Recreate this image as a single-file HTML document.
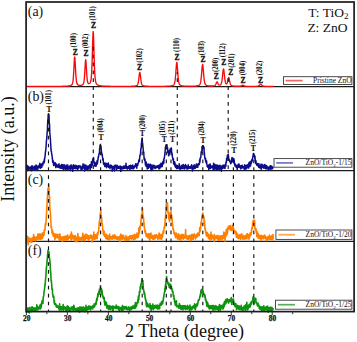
<!DOCTYPE html>
<html><head><meta charset="utf-8"><style>
html,body{margin:0;padding:0;background:#fff;width:357px;height:342px;overflow:hidden}
svg{display:block}
</style></head><body>
<svg width="357" height="342" viewBox="0 0 357 342">
<style>
.d{stroke:#151515;stroke-width:1.15;stroke-dasharray:3.7 4.2;fill:none}
.tr{fill:none;stroke-width:1.45;stroke-linejoin:round}
text{font-family:"Liberation Serif",serif;fill:#111}
.tl{font-size:7.4px;font-weight:bold;text-anchor:middle;stroke:#111;stroke-width:0.25}
.pl{font-size:7.2px;font-weight:bold;text-anchor:middle;stroke:#111;stroke-width:0.32}
.hk{font-size:6.6px;font-weight:bold;text-anchor:middle;stroke:#111;stroke-width:0.05}
.lg{font-size:7.5px}
.pt{stroke-width:0.12}
.sub{font-size:5px}
</style>
<rect width="357" height="342" fill="#fff"/>
<line x1="26" y1="86.7" x2="354" y2="86.7" stroke="#1c1c1c" stroke-width="1.2"/>
<line x1="26" y1="170.7" x2="354" y2="170.7" stroke="#1c1c1c" stroke-width="1.2"/>
<line x1="26" y1="241.3" x2="354" y2="241.3" stroke="#1c1c1c" stroke-width="1.2"/>
<polyline class="tr" stroke="#f80a0a" style="stroke-width:1.35" points="26.40,86.43 26.65,86.43 26.90,86.43 27.15,86.43 27.40,86.43 27.65,86.43 27.90,86.43 28.15,86.43 28.40,86.43 28.65,86.43 28.90,86.43 29.15,86.43 29.40,86.43 29.65,86.43 29.90,86.43 30.15,86.43 30.40,86.43 30.65,86.43 30.90,86.43 31.15,86.43 31.40,86.43 31.65,86.43 31.90,86.43 32.15,86.43 32.40,86.43 32.65,86.43 32.90,86.43 33.15,86.43 33.40,86.43 33.65,86.43 33.90,86.43 34.15,86.42 34.40,86.42 34.65,86.42 34.90,86.42 35.15,86.42 35.40,86.42 35.65,86.42 35.90,86.42 36.15,86.42 36.40,86.42 36.65,86.42 36.90,86.42 37.15,86.42 37.40,86.42 37.65,86.42 37.90,86.42 38.15,86.42 38.40,86.42 38.65,86.42 38.90,86.42 39.15,86.42 39.40,86.42 39.65,86.42 39.90,86.42 40.15,86.42 40.40,86.42 40.65,86.42 40.90,86.42 41.15,86.42 41.40,86.42 41.65,86.42 41.90,86.42 42.15,86.41 42.40,86.41 42.65,86.41 42.90,86.41 43.15,86.41 43.40,86.41 43.65,86.41 43.90,86.41 44.15,86.41 44.40,86.41 44.65,86.41 44.90,86.41 45.15,86.41 45.40,86.41 45.65,86.41 45.90,86.41 46.15,86.41 46.40,86.41 46.65,86.41 46.90,86.41 47.15,86.40 47.40,86.40 47.65,86.40 47.90,86.40 48.15,86.40 48.40,86.40 48.65,86.40 48.90,86.40 49.15,86.40 49.40,86.40 49.65,86.40 49.90,86.40 50.15,86.40 50.40,86.39 50.65,86.39 50.90,86.39 51.15,86.39 51.40,86.39 51.65,86.39 51.90,86.39 52.15,86.39 52.40,86.39 52.65,86.39 52.90,86.39 53.15,86.38 53.40,86.38 53.65,86.38 53.90,86.38 54.15,86.38 54.40,86.38 54.65,86.38 54.90,86.37 55.15,86.37 55.40,86.37 55.65,86.37 55.90,86.37 56.15,86.37 56.40,86.37 56.65,86.36 56.90,86.36 57.15,86.36 57.40,86.36 57.65,86.36 57.90,86.35 58.15,86.35 58.40,86.35 58.65,86.35 58.90,86.34 59.15,86.34 59.40,86.34 59.65,86.34 59.90,86.33 60.15,86.33 60.40,86.33 60.65,86.32 60.90,86.32 61.15,86.32 61.40,86.31 61.65,86.31 61.90,86.30 62.15,86.30 62.40,86.29 62.65,86.29 62.90,86.28 63.15,86.28 63.40,86.27 63.65,86.27 63.90,86.26 64.15,86.25 64.40,86.24 64.65,86.24 64.90,86.23 65.15,86.22 65.40,86.21 65.65,86.20 65.90,86.19 66.15,86.17 66.40,86.16 66.65,86.14 66.90,86.13 67.15,86.11 67.40,86.09 67.65,86.07 67.90,86.05 68.15,86.02 68.40,85.99 68.65,85.96 68.90,85.93 69.15,85.88 69.40,85.84 69.65,85.79 69.90,85.73 70.15,85.66 70.40,85.58 70.65,85.48 70.90,85.37 71.15,85.24 71.40,85.08 71.65,84.87 71.90,84.61 72.15,84.24 72.40,83.71 72.65,82.91 72.90,81.66 73.15,79.77 73.40,77.02 73.65,73.30 73.90,68.69 74.15,63.63 74.40,59.16 74.65,56.87 74.90,57.88 75.15,61.66 75.40,66.63 75.65,71.49 75.90,75.58 76.15,78.70 76.40,80.90 76.65,82.36 76.90,83.30 77.15,83.90 77.40,84.30 77.65,84.58 77.90,84.79 78.15,84.94 78.40,85.07 78.65,85.16 78.90,85.23 79.15,85.29 79.40,85.33 79.65,85.36 79.90,85.38 80.15,85.38 80.40,85.38 80.65,85.36 80.90,85.33 81.15,85.29 81.40,85.24 81.65,85.17 81.90,85.09 82.15,84.98 82.40,84.84 82.65,84.67 82.90,84.44 83.15,84.12 83.40,83.65 83.65,82.93 83.90,81.83 84.15,80.14 84.40,77.70 84.65,74.39 84.90,70.29 85.15,65.79 85.40,61.82 85.65,59.77 85.90,60.64 86.15,63.96 86.40,68.34 86.65,72.61 86.90,76.19 87.15,78.90 87.40,80.79 87.65,82.02 87.90,82.78 88.15,83.23 88.40,83.49 88.65,83.62 88.90,83.66 89.15,83.63 89.40,83.53 89.65,83.37 89.90,83.13 90.15,82.79 90.40,82.30 90.65,81.59 90.90,80.50 91.15,78.84 91.40,76.29 91.65,72.52 91.90,67.23 92.15,60.28 92.40,51.93 92.65,43.02 92.90,35.36 93.15,31.51 93.40,33.24 93.65,39.73 93.90,48.44 94.15,57.20 94.40,64.80 94.65,70.80 94.90,75.18 95.15,78.22 95.40,80.25 95.65,81.59 95.90,82.49 96.15,83.13 96.40,83.60 96.65,83.96 96.90,84.26 97.15,84.50 97.40,84.70 97.65,84.87 97.90,85.02 98.15,85.15 98.40,85.26 98.65,85.36 98.90,85.44 99.15,85.52 99.40,85.58 99.65,85.64 99.90,85.70 100.15,85.74 100.40,85.79 100.65,85.83 100.90,85.86 101.15,85.89 101.40,85.92 101.65,85.95 101.90,85.98 102.15,86.00 102.40,86.02 102.65,86.04 102.90,86.06 103.15,86.08 103.40,86.09 103.65,86.11 103.90,86.12 104.15,86.13 104.40,86.15 104.65,86.16 104.90,86.17 105.15,86.18 105.40,86.19 105.65,86.20 105.90,86.20 106.15,86.21 106.40,86.22 106.65,86.23 106.90,86.23 107.15,86.24 107.40,86.25 107.65,86.25 107.90,86.26 108.15,86.26 108.40,86.27 108.65,86.27 108.90,86.28 109.15,86.28 109.40,86.28 109.65,86.29 109.90,86.29 110.15,86.30 110.40,86.30 110.65,86.30 110.90,86.30 111.15,86.31 111.40,86.31 111.65,86.31 111.90,86.32 112.15,86.32 112.40,86.32 112.65,86.32 112.90,86.33 113.15,86.33 113.40,86.33 113.65,86.33 113.90,86.33 114.15,86.34 114.40,86.34 114.65,86.34 114.90,86.34 115.15,86.34 115.40,86.34 115.65,86.34 115.90,86.35 116.15,86.35 116.40,86.35 116.65,86.35 116.90,86.35 117.15,86.35 117.40,86.35 117.65,86.35 117.90,86.35 118.15,86.35 118.40,86.36 118.65,86.36 118.90,86.36 119.15,86.36 119.40,86.36 119.65,86.36 119.90,86.36 120.15,86.36 120.40,86.36 120.65,86.36 120.90,86.36 121.15,86.36 121.40,86.36 121.65,86.36 121.90,86.36 122.15,86.36 122.40,86.36 122.65,86.36 122.90,86.36 123.15,86.36 123.40,86.36 123.65,86.36 123.90,86.36 124.15,86.36 124.40,86.36 124.65,86.36 124.90,86.36 125.15,86.36 125.40,86.35 125.65,86.35 125.90,86.35 126.15,86.35 126.40,86.35 126.65,86.35 126.90,86.35 127.15,86.35 127.40,86.34 127.65,86.34 127.90,86.34 128.15,86.34 128.40,86.34 128.65,86.33 128.90,86.33 129.15,86.33 129.40,86.32 129.65,86.32 129.90,86.32 130.15,86.31 130.40,86.31 130.65,86.30 130.90,86.30 131.15,86.29 131.40,86.29 131.65,86.28 131.90,86.27 132.15,86.26 132.40,86.25 132.65,86.24 132.90,86.23 133.15,86.22 133.40,86.20 133.65,86.19 133.90,86.17 134.15,86.15 134.40,86.12 134.65,86.10 134.90,86.07 135.15,86.03 135.40,85.99 135.65,85.94 135.90,85.88 136.15,85.81 136.40,85.73 136.65,85.62 136.90,85.48 137.15,85.28 137.40,84.99 137.65,84.57 137.90,83.94 138.15,83.03 138.40,81.76 138.65,80.12 138.90,78.12 139.15,75.93 139.40,73.89 139.65,72.54 139.90,72.41 140.15,73.55 140.40,75.50 140.65,77.69 140.90,79.74 141.15,81.47 141.40,82.80 141.65,83.78 141.90,84.46 142.15,84.92 142.40,85.23 142.65,85.44 142.90,85.60 143.15,85.71 143.40,85.80 143.65,85.87 143.90,85.93 144.15,85.98 144.40,86.02 144.65,86.06 144.90,86.09 145.15,86.12 145.40,86.14 145.65,86.17 145.90,86.18 146.15,86.20 146.40,86.22 146.65,86.23 146.90,86.24 147.15,86.25 147.40,86.26 147.65,86.27 147.90,86.28 148.15,86.28 148.40,86.29 148.65,86.30 148.90,86.30 149.15,86.31 149.40,86.31 149.65,86.32 149.90,86.32 150.15,86.32 150.40,86.33 150.65,86.33 150.90,86.33 151.15,86.33 151.40,86.34 151.65,86.34 151.90,86.34 152.15,86.34 152.40,86.34 152.65,86.35 152.90,86.35 153.15,86.35 153.40,86.35 153.65,86.35 153.90,86.35 154.15,86.35 154.40,86.35 154.65,86.35 154.90,86.35 155.15,86.35 155.40,86.36 155.65,86.36 155.90,86.36 156.15,86.36 156.40,86.36 156.65,86.36 156.90,86.36 157.15,86.36 157.40,86.35 157.65,86.35 157.90,86.35 158.15,86.35 158.40,86.35 158.65,86.35 158.90,86.35 159.15,86.35 159.40,86.35 159.65,86.35 159.90,86.35 160.15,86.35 160.40,86.34 160.65,86.34 160.90,86.34 161.15,86.34 161.40,86.34 161.65,86.34 161.90,86.33 162.15,86.33 162.40,86.33 162.65,86.33 162.90,86.32 163.15,86.32 163.40,86.32 163.65,86.32 163.90,86.31 164.15,86.31 164.40,86.30 164.65,86.30 164.90,86.30 165.15,86.29 165.40,86.29 165.65,86.28 165.90,86.28 166.15,86.27 166.40,86.26 166.65,86.26 166.90,86.25 167.15,86.24 167.40,86.23 167.65,86.22 167.90,86.21 168.15,86.20 168.40,86.19 168.65,86.17 168.90,86.16 169.15,86.14 169.40,86.12 169.65,86.10 169.90,86.08 170.15,86.05 170.40,86.03 170.65,86.00 170.90,85.96 171.15,85.92 171.40,85.88 171.65,85.83 171.90,85.77 172.15,85.70 172.40,85.62 172.65,85.53 172.90,85.42 173.15,85.29 173.40,85.13 173.65,84.92 173.90,84.64 174.15,84.25 174.40,83.69 174.65,82.87 174.90,81.69 175.15,80.02 175.40,77.78 175.65,74.94 175.90,71.58 176.15,67.99 176.40,64.71 176.65,62.58 176.90,62.37 177.15,64.16 177.40,67.28 177.65,70.87 177.90,74.30 178.15,77.25 178.40,79.61 178.65,81.39 178.90,82.66 179.15,83.54 179.40,84.15 179.65,84.57 179.90,84.86 180.15,85.08 180.40,85.25 180.65,85.39 180.90,85.50 181.15,85.59 181.40,85.67 181.65,85.74 181.90,85.80 182.15,85.85 182.40,85.89 182.65,85.93 182.90,85.97 183.15,86.00 183.40,86.02 183.65,86.05 183.90,86.07 184.15,86.09 184.40,86.10 184.65,86.12 184.90,86.13 185.15,86.15 185.40,86.16 185.65,86.17 185.90,86.18 186.15,86.18 186.40,86.19 186.65,86.20 186.90,86.20 187.15,86.21 187.40,86.21 187.65,86.22 187.90,86.22 188.15,86.22 188.40,86.23 188.65,86.23 188.90,86.23 189.15,86.23 189.40,86.23 189.65,86.23 189.90,86.23 190.15,86.23 190.40,86.23 190.65,86.23 190.90,86.22 191.15,86.22 191.40,86.22 191.65,86.22 191.90,86.21 192.15,86.21 192.40,86.20 192.65,86.20 192.90,86.19 193.15,86.18 193.40,86.17 193.65,86.16 193.90,86.15 194.15,86.14 194.40,86.13 194.65,86.12 194.90,86.10 195.15,86.09 195.40,86.07 195.65,86.05 195.90,86.02 196.15,86.00 196.40,85.97 196.65,85.94 196.90,85.90 197.15,85.86 197.40,85.81 197.65,85.75 197.90,85.69 198.15,85.62 198.40,85.53 198.65,85.43 198.90,85.30 199.15,85.15 199.40,84.95 199.65,84.68 199.90,84.30 200.15,83.77 200.40,83.00 200.65,81.91 200.90,80.41 201.15,78.42 201.40,75.94 201.65,73.03 201.90,69.91 202.15,67.00 202.40,64.96 202.65,64.44 202.90,65.62 203.15,68.10 203.40,71.15 203.65,74.23 203.90,76.98 204.15,79.27 204.40,81.05 204.65,82.37 204.90,83.32 205.15,83.99 205.40,84.45 205.65,84.77 205.90,85.01 206.15,85.19 206.40,85.33 206.65,85.44 206.90,85.53 207.15,85.61 207.40,85.68 207.65,85.74 207.90,85.78 208.15,85.83 208.40,85.86 208.65,85.90 208.90,85.92 209.15,85.95 209.40,85.97 209.65,85.98 209.90,86.00 210.15,86.01 210.40,86.02 210.65,86.03 210.90,86.03 211.15,86.04 211.40,86.04 211.65,86.04 211.90,86.03 212.15,86.03 212.40,86.02 212.65,86.01 212.90,85.99 213.15,85.97 213.40,85.95 213.65,85.92 213.90,85.88 214.15,85.83 214.40,85.75 214.65,85.64 214.90,85.48 215.15,85.25 215.40,84.93 215.65,84.51 215.90,83.98 216.15,83.37 216.40,82.73 216.65,82.17 216.90,81.84 217.15,81.85 217.40,82.20 217.65,82.75 217.90,83.34 218.15,83.90 218.40,84.35 218.65,84.70 218.90,84.93 219.15,85.08 219.40,85.15 219.65,85.16 219.90,85.11 220.15,85.03 220.40,84.88 220.65,84.67 220.90,84.35 221.15,83.88 221.40,83.19 221.65,82.22 221.90,80.91 222.15,79.19 222.40,77.10 222.65,74.72 222.90,72.28 223.15,70.20 223.40,69.02 223.65,69.14 223.90,70.52 224.15,72.69 224.40,75.11 224.65,77.42 224.90,79.40 225.15,80.99 225.40,82.18 225.65,83.02 225.90,83.56 226.15,83.85 226.40,83.94 226.65,83.84 226.90,83.53 227.15,83.00 227.40,82.24 227.65,81.25 227.90,80.11 228.15,78.93 228.40,77.96 228.65,77.51 228.90,77.77 229.15,78.65 229.40,79.87 229.65,81.14 229.90,82.31 230.15,83.28 230.40,84.04 230.65,84.60 230.90,85.01 231.15,85.29 231.40,85.48 231.65,85.62 231.90,85.72 232.15,85.80 232.40,85.86 232.65,85.92 232.90,85.96 233.15,86.00 233.40,86.03 233.65,86.06 233.90,86.09 234.15,86.11 234.40,86.13 234.65,86.14 234.90,86.16 235.15,86.17 235.40,86.19 235.65,86.20 235.90,86.21 236.15,86.22 236.40,86.22 236.65,86.23 236.90,86.24 237.15,86.24 237.40,86.25 237.65,86.25 237.90,86.25 238.15,86.25 238.40,86.25 238.65,86.25 238.90,86.25 239.15,86.24 239.40,86.24 239.65,86.22 239.90,86.21 240.15,86.18 240.40,86.14 240.65,86.09 240.90,86.02 241.15,85.93 241.40,85.82 241.65,85.69 241.90,85.55 242.15,85.41 242.40,85.29 242.65,85.21 242.90,85.21 243.15,85.27 243.40,85.39 243.65,85.53 243.90,85.68 244.15,85.81 244.40,85.93 244.65,86.03 244.90,86.11 245.15,86.17 245.40,86.22 245.65,86.25 245.90,86.27 246.15,86.29 246.40,86.30 246.65,86.31 246.90,86.32 247.15,86.33 247.40,86.33 247.65,86.34 247.90,86.34 248.15,86.35 248.40,86.35 248.65,86.35 248.90,86.36 249.15,86.36 249.40,86.36 249.65,86.36 249.90,86.36 250.15,86.37 250.40,86.37 250.65,86.37 250.90,86.37 251.15,86.37 251.40,86.37 251.65,86.37 251.90,86.37 252.15,86.37 252.40,86.37 252.65,86.37 252.90,86.37 253.15,86.36 253.40,86.36 253.65,86.36 253.90,86.36 254.15,86.36 254.40,86.35 254.65,86.35 254.90,86.34 255.15,86.34 255.40,86.33 255.65,86.33 255.90,86.32 256.15,86.31 256.40,86.30 256.65,86.29 256.90,86.27 257.15,86.25 257.40,86.22 257.65,86.18 257.90,86.12 258.15,86.05 258.40,85.95 258.65,85.83 258.90,85.67 259.15,85.49 259.40,85.27 259.65,85.03 259.90,84.78 260.15,84.55 260.40,84.38 260.65,84.30 260.90,84.34 261.15,84.48 261.40,84.69 261.65,84.93 261.90,85.18 262.15,85.41 262.40,85.61 262.65,85.78 262.90,85.92 263.15,86.02 263.40,86.11 263.65,86.17 263.90,86.21 264.15,86.25 264.40,86.27 264.65,86.29 264.90,86.31 265.15,86.32 265.40,86.33 265.65,86.34 265.90,86.35 266.15,86.36 266.40,86.36 266.65,86.37 266.90,86.37 267.15,86.38 267.40,86.38 267.65,86.38 267.90,86.39 268.15,86.39 268.40,86.39 268.65,86.39 268.90,86.40 269.15,86.40 269.40,86.40 269.65,86.40 269.90,86.40 270.15,86.41 270.40,86.41 270.65,86.41 270.90,86.41 271.15,86.41 271.40,86.41 271.65,86.41 271.90,86.41 272.15,86.42 272.40,86.42 272.65,86.42 272.90,86.42 273.15,86.42 273.40,86.42"/>
<polyline class="tr" stroke="#0c0c8c" style="stroke-width:1.5" points="26.40,168.60 26.60,167.67 26.80,166.40 27.00,165.15 27.20,170.66 27.40,169.79 27.60,167.87 27.80,169.29 28.00,168.64 28.20,166.22 28.40,169.52 28.60,167.83 28.80,167.80 29.00,167.18 29.20,168.79 29.40,168.06 29.60,168.89 29.80,167.37 30.00,168.31 30.20,166.97 30.40,169.22 30.60,168.35 30.80,168.52 31.00,168.61 31.20,166.74 31.40,169.06 31.60,170.71 31.80,165.88 32.00,165.74 32.20,166.02 32.40,169.05 32.60,168.11 32.80,169.33 33.00,168.84 33.20,168.15 33.40,168.23 33.60,167.62 33.80,168.95 34.00,166.32 34.20,167.22 34.40,168.06 34.60,170.07 34.80,166.69 35.00,166.26 35.20,166.90 35.40,168.87 35.60,167.27 35.80,169.27 36.00,165.07 36.20,168.95 36.40,168.79 36.60,165.55 36.80,167.56 37.00,168.91 37.20,167.39 37.40,168.54 37.60,170.28 37.80,167.49 38.00,166.72 38.20,166.02 38.40,167.82 38.60,166.65 38.80,166.61 39.00,166.64 39.20,167.55 39.40,165.23 39.60,164.55 39.80,163.28 40.00,167.94 40.20,166.37 40.40,168.15 40.60,166.05 40.80,164.97 41.00,166.44 41.20,165.58 41.40,163.89 41.60,164.21 41.80,167.53 42.00,165.48 42.20,165.36 42.40,164.23 42.60,163.44 42.80,165.25 43.00,163.63 43.20,161.93 43.40,162.87 43.60,161.41 43.80,162.36 44.00,163.04 44.20,159.77 44.40,162.03 44.60,158.36 44.80,158.45 45.00,155.95 45.20,155.44 45.40,151.85 45.60,151.88 45.80,149.54 46.00,147.36 46.20,144.70 46.40,140.93 46.60,139.82 46.80,137.60 47.00,135.00 47.20,131.20 47.40,130.42 47.60,123.98 47.80,119.82 48.00,120.80 48.20,114.60 48.40,116.69 48.60,113.77 48.80,116.70 49.00,115.01 49.20,121.81 49.40,123.23 49.60,125.34 49.80,132.64 50.00,134.73 50.20,137.02 50.40,139.05 50.60,142.98 50.80,145.51 51.00,149.19 51.20,151.48 51.40,151.43 51.60,153.33 51.80,154.88 52.00,155.11 52.20,157.29 52.40,158.96 52.60,160.87 52.80,162.45 53.00,160.27 53.20,162.64 53.40,161.81 53.60,165.57 53.80,163.13 54.00,164.19 54.20,162.59 54.40,163.02 54.60,164.59 54.80,164.03 55.00,165.20 55.20,162.86 55.40,165.94 55.60,164.04 55.80,167.62 56.00,165.11 56.20,167.04 56.40,163.89 56.60,166.38 56.80,164.75 57.00,165.36 57.20,166.11 57.40,165.74 57.60,166.57 57.80,167.27 58.00,167.21 58.20,166.30 58.40,164.69 58.60,165.47 58.80,166.32 59.00,163.85 59.20,167.65 59.40,166.39 59.60,166.41 59.80,168.02 60.00,167.68 60.20,167.14 60.40,165.58 60.60,167.32 60.80,167.40 61.00,165.82 61.20,168.37 61.40,167.70 61.60,164.49 61.80,167.24 62.00,165.46 62.20,168.61 62.40,168.20 62.60,165.73 62.80,164.63 63.00,167.34 63.20,166.92 63.40,169.23 63.60,168.23 63.80,166.91 64.00,168.05 64.20,164.66 64.40,167.73 64.60,168.47 64.80,167.12 65.00,166.44 65.20,168.11 65.40,169.94 65.60,167.66 65.80,165.95 66.00,169.30 66.20,164.98 66.40,168.09 66.60,166.69 66.80,168.67 67.00,166.36 67.20,169.20 67.40,167.87 67.60,165.24 67.80,164.92 68.00,167.09 68.20,169.19 68.40,167.68 68.60,167.61 68.80,167.22 69.00,168.49 69.20,168.03 69.40,167.91 69.60,166.27 69.80,169.10 70.00,169.33 70.20,165.87 70.40,170.57 70.60,168.51 70.80,166.94 71.00,165.10 71.20,168.44 71.40,168.31 71.60,166.82 71.80,165.26 72.00,168.66 72.20,166.84 72.40,166.99 72.60,171.31 72.80,170.38 73.00,168.85 73.20,167.02 73.40,168.46 73.60,164.65 73.80,167.76 74.00,166.63 74.20,165.95 74.40,165.57 74.60,168.31 74.80,167.74 75.00,167.84 75.20,168.73 75.40,166.53 75.60,166.02 75.80,165.32 76.00,165.80 76.20,168.62 76.40,167.44 76.60,168.47 76.80,166.10 77.00,167.02 77.20,166.64 77.40,166.01 77.60,170.05 77.80,168.74 78.00,166.64 78.20,166.64 78.40,167.56 78.60,165.75 78.80,168.20 79.00,165.94 79.20,167.15 79.40,166.29 79.60,167.00 79.80,165.89 80.00,165.57 80.20,166.36 80.40,166.73 80.60,167.23 80.80,167.70 81.00,169.60 81.20,168.66 81.40,167.27 81.60,168.54 81.80,166.70 82.00,169.48 82.20,168.30 82.40,165.82 82.60,168.56 82.80,168.64 83.00,164.07 83.20,166.59 83.40,166.94 83.60,165.04 83.80,166.16 84.00,164.28 84.20,165.76 84.40,167.92 84.60,170.94 84.80,167.00 85.00,169.01 85.20,167.60 85.40,167.84 85.60,165.97 85.80,164.98 86.00,166.46 86.20,168.44 86.40,169.49 86.60,168.20 86.80,168.05 87.00,166.30 87.20,169.37 87.40,169.11 87.60,166.65 87.80,167.26 88.00,166.00 88.20,169.19 88.40,167.78 88.60,167.10 88.80,167.72 89.00,167.74 89.20,166.59 89.40,165.47 89.60,165.37 89.80,164.73 90.00,167.54 90.20,169.77 90.40,164.59 90.60,166.90 90.80,167.16 91.00,165.22 91.20,166.62 91.40,161.84 91.60,167.46 91.80,164.73 92.00,165.13 92.20,165.19 92.40,162.79 92.60,159.81 92.80,160.13 93.00,159.93 93.20,158.54 93.40,158.88 93.60,157.87 93.80,160.66 94.00,162.62 94.20,162.72 94.40,165.96 94.60,163.70 94.80,162.94 95.00,162.36 95.20,166.06 95.40,164.44 95.60,165.76 95.80,164.89 96.00,166.24 96.20,165.54 96.40,163.10 96.60,163.64 96.80,164.35 97.00,160.86 97.20,163.95 97.40,163.10 97.60,162.19 97.80,159.93 98.00,159.83 98.20,157.07 98.40,157.69 98.60,155.77 98.80,155.55 99.00,153.56 99.20,153.37 99.40,153.35 99.60,148.74 99.80,148.97 100.00,145.78 100.20,144.88 100.40,147.37 100.60,147.56 100.80,148.53 101.00,146.33 101.20,149.46 101.40,150.85 101.60,153.62 101.80,153.05 102.00,155.18 102.20,154.38 102.40,156.61 102.60,157.34 102.80,159.87 103.00,158.50 103.20,159.50 103.40,162.07 103.60,164.29 103.80,162.95 104.00,163.29 104.20,162.82 104.40,165.03 104.60,164.58 104.80,166.39 105.00,164.73 105.20,163.22 105.40,163.87 105.60,163.46 105.80,163.24 106.00,166.66 106.20,166.18 106.40,163.62 106.60,167.70 106.80,165.80 107.00,164.35 107.20,166.23 107.40,165.75 107.60,164.94 107.80,163.52 108.00,166.22 108.20,166.65 108.40,162.99 108.60,167.17 108.80,167.34 109.00,165.99 109.20,166.82 109.40,166.38 109.60,165.71 109.80,166.39 110.00,168.67 110.20,165.06 110.40,167.31 110.60,167.28 110.80,166.15 111.00,166.54 111.20,165.32 111.40,166.06 111.60,167.21 111.80,167.65 112.00,166.07 112.20,171.25 112.40,166.54 112.60,167.47 112.80,167.02 113.00,166.81 113.20,169.04 113.40,166.74 113.60,169.11 113.80,168.87 114.00,166.04 114.20,168.76 114.40,166.57 114.60,170.99 114.80,166.94 115.00,166.22 115.20,164.97 115.40,165.78 115.60,166.71 115.80,166.18 116.00,165.88 116.20,166.58 116.40,167.23 116.60,169.39 116.80,165.29 117.00,166.79 117.20,166.27 117.40,165.55 117.60,165.87 117.80,166.35 118.00,168.46 118.20,167.28 118.40,166.84 118.60,168.33 118.80,167.91 119.00,167.25 119.20,168.05 119.40,166.47 119.60,168.37 119.80,168.16 120.00,167.02 120.20,165.97 120.40,169.53 120.60,167.68 120.80,171.53 121.00,166.70 121.20,168.67 121.40,166.99 121.60,167.04 121.80,168.64 122.00,166.51 122.20,167.42 122.40,167.76 122.60,167.70 122.80,168.33 123.00,168.88 123.20,168.63 123.40,167.89 123.60,167.09 123.80,166.07 124.00,166.58 124.20,166.85 124.40,168.42 124.60,167.06 124.80,165.91 125.00,168.34 125.20,166.47 125.40,166.52 125.60,167.22 125.80,168.12 126.00,163.25 126.20,166.04 126.40,167.72 126.60,167.01 126.80,166.36 127.00,166.77 127.20,169.27 127.40,166.87 127.60,168.38 127.80,168.48 128.00,166.85 128.20,168.01 128.40,166.84 128.60,166.62 128.80,165.94 129.00,168.53 129.20,166.87 129.40,166.65 129.60,165.89 129.80,169.70 130.00,168.30 130.20,167.15 130.40,166.40 130.60,165.30 130.80,167.66 131.00,167.64 131.20,165.41 131.40,168.74 131.60,168.21 131.80,165.93 132.00,166.43 132.20,166.58 132.40,167.32 132.60,166.89 132.80,164.92 133.00,168.95 133.20,167.40 133.40,168.60 133.60,168.56 133.80,166.61 134.00,167.28 134.20,167.75 134.40,167.75 134.60,166.48 134.80,165.83 135.00,166.62 135.20,165.46 135.40,165.71 135.60,163.70 135.80,166.38 136.00,164.83 136.20,165.34 136.40,165.89 136.60,166.24 136.80,168.16 137.00,165.80 137.20,163.49 137.40,165.31 137.60,164.12 137.80,165.15 138.00,163.39 138.20,162.98 138.40,162.80 138.60,162.12 138.80,159.92 139.00,160.74 139.20,160.77 139.40,161.43 139.60,158.34 139.80,156.98 140.00,155.05 140.20,155.25 140.40,155.01 140.60,151.82 140.80,149.10 141.00,149.07 141.20,147.52 141.40,143.09 141.60,142.67 141.80,139.23 142.00,140.79 142.20,138.12 142.40,142.14 142.60,143.07 142.80,145.14 143.00,147.06 143.20,149.78 143.40,151.30 143.60,152.03 143.80,152.74 144.00,157.71 144.20,159.34 144.40,158.07 144.60,160.53 144.80,158.71 145.00,159.49 145.20,161.92 145.40,164.83 145.60,162.02 145.80,162.74 146.00,166.33 146.20,162.05 146.40,165.66 146.60,165.69 146.80,164.98 147.00,165.67 147.20,169.02 147.40,164.24 147.60,165.43 147.80,165.64 148.00,165.15 148.20,164.38 148.40,168.30 148.60,166.58 148.80,164.06 149.00,165.50 149.20,167.00 149.40,167.05 149.60,164.69 149.80,166.50 150.00,166.99 150.20,167.20 150.40,167.24 150.60,164.37 150.80,169.19 151.00,167.08 151.20,169.18 151.40,170.58 151.60,166.66 151.80,165.27 152.00,168.03 152.20,166.68 152.40,166.33 152.60,165.59 152.80,169.14 153.00,166.37 153.20,165.13 153.40,166.38 153.60,165.45 153.80,167.17 154.00,166.42 154.20,165.59 154.40,167.75 154.60,166.12 154.80,167.90 155.00,168.60 155.20,166.47 155.40,166.09 155.60,167.19 155.80,168.08 156.00,166.90 156.20,167.07 156.40,166.84 156.60,167.26 156.80,167.58 157.00,165.89 157.20,165.86 157.40,166.82 157.60,165.87 157.80,166.89 158.00,167.38 158.20,166.62 158.40,165.82 158.60,165.55 158.80,168.81 159.00,167.62 159.20,164.96 159.40,165.26 159.60,168.75 159.80,168.21 160.00,166.33 160.20,167.59 160.40,164.04 160.60,165.89 160.80,166.75 161.00,163.22 161.20,164.50 161.40,166.39 161.60,166.68 161.80,164.21 162.00,165.14 162.20,166.59 162.40,163.67 162.60,162.05 162.80,163.29 163.00,162.35 163.20,164.01 163.40,161.82 163.60,159.76 163.80,163.14 164.00,158.25 164.20,158.42 164.40,157.44 164.60,156.22 164.80,153.93 165.00,152.96 165.20,150.52 165.40,147.15 165.60,147.45 165.80,146.36 166.00,145.61 166.20,145.69 166.40,144.71 166.60,147.90 166.80,149.05 167.00,144.86 167.20,149.05 167.40,149.21 167.60,147.69 167.80,152.78 168.00,152.16 168.20,150.54 168.40,153.10 168.60,155.63 168.80,155.80 169.00,154.25 169.20,154.38 169.40,152.68 169.60,152.29 169.80,150.27 170.00,150.51 170.20,148.73 170.40,149.64 170.60,149.94 170.80,149.23 171.00,150.78 171.20,152.33 171.40,147.90 171.60,151.97 171.80,152.44 172.00,153.90 172.20,153.97 172.40,157.11 172.60,157.84 172.80,158.40 173.00,159.85 173.20,160.26 173.40,158.69 173.60,163.88 173.80,162.62 174.00,162.26 174.20,164.35 174.40,163.44 174.60,161.77 174.80,166.06 175.00,162.92 175.20,165.04 175.40,165.66 175.60,167.42 175.80,167.35 176.00,166.13 176.20,165.02 176.40,165.57 176.60,167.53 176.80,168.62 177.00,167.07 177.20,165.58 177.40,167.83 177.60,166.06 177.80,166.07 178.00,166.28 178.20,167.46 178.40,167.09 178.60,168.07 178.80,168.50 179.00,167.52 179.20,163.84 179.40,164.70 179.60,167.14 179.80,166.88 180.00,169.80 180.20,166.97 180.40,166.83 180.60,168.28 180.80,168.46 181.00,166.78 181.20,167.72 181.40,165.64 181.60,165.91 181.80,168.76 182.00,165.33 182.20,168.38 182.40,168.07 182.60,168.20 182.80,168.40 183.00,167.95 183.20,164.44 183.40,165.93 183.60,166.46 183.80,168.44 184.00,165.79 184.20,166.34 184.40,166.80 184.60,168.99 184.80,165.40 185.00,165.52 185.20,168.10 185.40,164.52 185.60,167.72 185.80,166.70 186.00,165.24 186.20,166.75 186.40,165.99 186.60,167.52 186.80,167.77 187.00,169.24 187.20,167.28 187.40,167.42 187.60,166.54 187.80,167.26 188.00,168.65 188.20,164.78 188.40,168.14 188.60,166.58 188.80,167.37 189.00,167.69 189.20,168.37 189.40,167.57 189.60,166.74 189.80,167.65 190.00,167.25 190.20,166.96 190.40,167.48 190.60,168.34 190.80,167.37 191.00,167.39 191.20,165.49 191.40,166.99 191.60,164.72 191.80,168.07 192.00,165.89 192.20,168.78 192.40,170.98 192.60,166.54 192.80,168.77 193.00,167.54 193.20,166.26 193.40,165.87 193.60,167.67 193.80,168.73 194.00,167.34 194.20,164.87 194.40,165.45 194.60,166.47 194.80,168.50 195.00,167.05 195.20,167.06 195.40,168.16 195.60,166.26 195.80,166.35 196.00,166.16 196.20,164.01 196.40,166.86 196.60,166.70 196.80,167.34 197.00,164.41 197.20,164.78 197.40,166.94 197.60,165.99 197.80,167.20 198.00,164.07 198.20,165.25 198.40,163.84 198.60,164.84 198.80,163.46 199.00,164.41 199.20,164.68 199.40,163.62 199.60,159.73 199.80,162.69 200.00,161.27 200.20,158.40 200.40,157.63 200.60,157.75 200.80,157.32 201.00,154.66 201.20,151.70 201.40,152.86 201.60,151.26 201.80,152.97 202.00,146.49 202.20,150.60 202.40,148.61 202.60,146.02 202.80,147.71 203.00,145.74 203.20,147.55 203.40,146.09 203.60,148.38 203.80,148.21 204.00,147.22 204.20,152.11 204.40,153.01 204.60,156.04 204.80,158.26 205.00,157.51 205.20,158.90 205.40,160.05 205.60,158.44 205.80,161.81 206.00,162.15 206.20,162.67 206.40,161.80 206.60,161.09 206.80,163.77 207.00,164.85 207.20,166.49 207.40,166.47 207.60,167.12 207.80,165.88 208.00,167.08 208.20,165.45 208.40,166.67 208.60,167.19 208.80,169.59 209.00,166.49 209.20,164.59 209.40,168.14 209.60,165.37 209.80,166.39 210.00,166.15 210.20,164.09 210.40,168.38 210.60,167.47 210.80,165.94 211.00,166.87 211.20,166.25 211.40,167.65 211.60,166.39 211.80,165.92 212.00,166.10 212.20,166.40 212.40,167.37 212.60,165.82 212.80,166.93 213.00,167.64 213.20,170.13 213.40,168.22 213.60,163.23 213.80,166.47 214.00,166.63 214.20,167.58 214.40,169.22 214.60,168.15 214.80,164.20 215.00,167.61 215.20,167.36 215.40,167.76 215.60,169.00 215.80,165.82 216.00,168.68 216.20,165.10 216.40,167.32 216.60,167.76 216.80,170.24 217.00,166.35 217.20,165.06 217.40,168.17 217.60,166.41 217.80,169.31 218.00,166.35 218.20,166.13 218.40,168.89 218.60,167.38 218.80,168.57 219.00,165.40 219.20,169.40 219.40,166.48 219.60,168.31 219.80,165.93 220.00,165.21 220.20,166.88 220.40,167.43 220.60,169.25 220.80,167.64 221.00,168.10 221.20,168.01 221.40,171.18 221.60,166.05 221.80,168.73 222.00,166.87 222.20,167.38 222.40,166.30 222.60,168.49 222.80,165.30 223.00,165.17 223.20,166.58 223.40,165.29 223.60,167.66 223.80,167.87 224.00,165.61 224.20,167.53 224.40,165.54 224.60,166.23 224.80,166.15 225.00,168.41 225.20,165.74 225.40,164.26 225.60,163.91 225.80,166.24 226.00,161.92 226.20,162.81 226.40,162.09 226.60,158.35 226.80,159.82 227.00,160.50 227.20,158.12 227.40,155.30 227.60,156.38 227.80,155.51 228.00,157.49 228.20,154.25 228.40,155.66 228.60,157.40 228.80,158.36 229.00,159.78 229.20,160.49 229.40,160.50 229.60,159.91 229.80,161.73 230.00,160.90 230.20,161.48 230.40,162.15 230.60,163.44 230.80,163.71 231.00,160.94 231.20,162.39 231.40,162.68 231.60,161.17 231.80,158.64 232.00,157.57 232.20,161.17 232.40,161.08 232.60,160.07 232.80,158.27 233.00,161.71 233.20,161.62 233.40,160.27 233.60,160.45 233.80,158.62 234.00,162.71 234.20,160.08 234.40,163.61 234.60,164.14 234.80,163.75 235.00,166.11 235.20,163.98 235.40,165.52 235.60,166.09 235.80,165.64 236.00,165.00 236.20,167.37 236.40,166.49 236.60,165.84 236.80,166.01 237.00,166.52 237.20,169.43 237.40,166.68 237.60,166.30 237.80,165.29 238.00,165.15 238.20,164.32 238.40,167.14 238.60,166.92 238.80,165.57 239.00,164.07 239.20,166.55 239.40,166.32 239.60,165.28 239.80,167.44 240.00,167.25 240.20,167.01 240.40,168.10 240.60,166.26 240.80,168.89 241.00,165.81 241.20,167.81 241.40,167.97 241.60,166.81 241.80,167.62 242.00,165.49 242.20,165.21 242.40,166.90 242.60,166.22 242.80,167.94 243.00,167.21 243.20,167.97 243.40,167.58 243.60,167.42 243.80,167.27 244.00,166.66 244.20,166.53 244.40,169.78 244.60,164.82 244.80,166.86 245.00,168.40 245.20,167.63 245.40,168.90 245.60,167.76 245.80,165.38 246.00,166.58 246.20,165.15 246.40,168.24 246.60,168.81 246.80,166.32 247.00,167.57 247.20,166.29 247.40,164.90 247.60,166.15 247.80,164.62 248.00,165.88 248.20,166.84 248.40,167.44 248.60,168.10 248.80,163.10 249.00,166.51 249.20,166.63 249.40,166.67 249.60,162.05 249.80,164.57 250.00,166.41 250.20,163.65 250.40,165.15 250.60,165.59 250.80,161.61 251.00,163.42 251.20,163.50 251.40,162.65 251.60,160.00 251.80,161.83 252.00,159.90 252.20,160.98 252.40,159.66 252.60,157.53 252.80,157.71 253.00,155.79 253.20,155.12 253.40,153.42 253.60,154.90 253.80,156.20 254.00,155.38 254.20,155.52 254.40,155.21 254.60,156.00 254.80,158.45 255.00,156.25 255.20,161.82 255.40,159.78 255.60,163.52 255.80,160.43 256.00,161.45 256.20,163.58 256.40,163.50 256.60,164.26 256.80,165.13 257.00,163.74 257.20,163.99 257.40,164.54 257.60,163.55 257.80,165.22 258.00,166.05 258.20,166.24 258.40,166.31 258.60,165.66 258.80,167.32 259.00,163.70 259.20,165.94 259.40,166.11 259.60,167.77 259.80,167.52 260.00,167.75 260.20,166.77 260.40,168.04 260.60,165.53 260.80,166.96 261.00,164.15 261.20,169.17 261.40,169.04 261.60,166.21 261.80,165.91 262.00,164.30 262.20,165.06 262.40,167.24 262.60,166.89 262.80,165.20 263.00,166.49 263.20,166.29 263.40,167.78 263.60,168.11 263.80,166.91 264.00,167.36 264.20,167.22 264.40,164.52 264.60,167.49 264.80,167.18 265.00,168.25 265.20,164.89 265.40,168.29 265.60,166.47 265.80,167.66 266.00,168.90 266.20,165.41 266.40,165.63 266.60,168.64 266.80,165.87 267.00,166.11 267.20,168.15 267.40,167.11 267.60,168.39 267.80,167.77 268.00,167.36 268.20,168.68 268.40,170.25 268.60,167.28 268.80,169.34 269.00,168.89 269.20,167.56 269.40,168.02 269.60,166.21 269.80,166.63 270.00,167.80 270.20,167.38 270.40,169.14 270.60,165.75 270.80,167.07 271.00,166.62 271.20,167.26 271.40,168.97 271.60,165.89 271.80,168.57 272.00,166.70 272.20,167.05 272.40,168.77 272.60,167.11 272.80,168.35 273.00,167.63 273.20,167.26 273.40,167.02"/>
<polyline class="tr" stroke="#ff8000" style="stroke-width:1.6" points="26.40,243.17 26.60,235.78 26.80,240.52 27.00,238.92 27.20,239.09 27.40,239.44 27.60,236.53 27.80,239.37 28.00,238.34 28.20,245.02 28.40,240.04 28.60,239.09 28.80,239.18 29.00,238.54 29.20,237.89 29.40,238.94 29.60,239.00 29.80,239.13 30.00,241.02 30.20,239.14 30.40,239.48 30.60,241.89 30.80,240.26 31.00,238.55 31.20,239.04 31.40,240.18 31.60,242.38 31.80,238.82 32.00,238.84 32.20,240.81 32.40,237.75 32.60,238.68 32.80,240.53 33.00,240.02 33.20,239.20 33.40,240.10 33.60,234.46 33.80,240.60 34.00,237.39 34.20,236.22 34.40,236.54 34.60,239.95 34.80,238.08 35.00,237.03 35.20,238.76 35.40,238.60 35.60,240.90 35.80,239.81 36.00,238.88 36.20,240.31 36.40,238.15 36.60,236.95 36.80,239.33 37.00,239.28 37.20,237.95 37.40,236.99 37.60,238.56 37.80,234.13 38.00,239.19 38.20,238.81 38.40,235.33 38.60,238.00 38.80,236.29 39.00,238.98 39.20,234.42 39.40,236.15 39.60,238.68 39.80,239.31 40.00,233.89 40.20,236.47 40.40,237.70 40.60,236.08 40.80,239.52 41.00,234.92 41.20,237.28 41.40,234.88 41.60,238.69 41.80,236.23 42.00,235.50 42.20,233.14 42.40,238.44 42.60,236.72 42.80,236.48 43.00,236.84 43.20,235.27 43.40,233.33 43.60,232.70 43.80,232.27 44.00,235.31 44.20,230.13 44.40,230.87 44.60,230.55 44.80,230.54 45.00,230.05 45.20,225.80 45.40,223.54 45.60,224.52 45.80,224.83 46.00,221.84 46.20,218.39 46.40,214.63 46.60,212.54 46.80,208.19 47.00,206.40 47.20,199.73 47.40,197.57 47.60,193.47 47.80,191.40 48.00,188.20 48.20,190.83 48.40,188.29 48.60,188.87 48.80,184.00 49.00,189.76 49.20,192.54 49.40,198.27 49.60,196.73 49.80,207.00 50.00,210.44 50.20,209.73 50.40,213.44 50.60,216.59 50.80,220.56 51.00,223.79 51.20,228.08 51.40,226.01 51.60,229.05 51.80,229.27 52.00,232.95 52.20,232.16 52.40,233.94 52.60,230.58 52.80,232.57 53.00,232.03 53.20,236.21 53.40,235.19 53.60,233.94 53.80,233.97 54.00,235.73 54.20,234.04 54.40,233.86 54.60,236.32 54.80,239.69 55.00,235.46 55.20,235.10 55.40,234.23 55.60,234.09 55.80,237.19 56.00,237.82 56.20,236.55 56.40,237.16 56.60,236.89 56.80,237.00 57.00,234.39 57.20,236.17 57.40,237.15 57.60,235.77 57.80,234.64 58.00,235.81 58.20,236.64 58.40,238.47 58.60,236.61 58.80,237.05 59.00,238.64 59.20,238.40 59.40,240.12 59.60,234.08 59.80,238.84 60.00,234.04 60.20,237.73 60.40,238.88 60.60,239.30 60.80,239.25 61.00,237.85 61.20,240.21 61.40,237.19 61.60,237.43 61.80,238.96 62.00,236.81 62.20,241.17 62.40,239.36 62.60,241.22 62.80,237.71 63.00,237.15 63.20,238.04 63.40,238.96 63.60,236.85 63.80,238.41 64.00,237.79 64.20,240.41 64.40,236.77 64.60,239.52 64.80,236.82 65.00,236.32 65.20,236.72 65.40,235.96 65.60,238.11 65.80,239.53 66.00,238.15 66.20,238.89 66.40,240.51 66.60,238.34 66.80,238.22 67.00,237.47 67.20,235.34 67.40,239.14 67.60,235.11 67.80,238.97 68.00,237.91 68.20,239.74 68.40,237.83 68.60,236.62 68.80,238.51 69.00,237.05 69.20,237.66 69.40,238.01 69.60,237.73 69.80,237.65 70.00,236.62 70.20,237.65 70.40,234.53 70.60,237.70 70.80,236.04 71.00,239.75 71.20,239.99 71.40,231.95 71.60,238.19 71.80,237.76 72.00,236.28 72.20,238.81 72.40,237.22 72.60,235.13 72.80,237.53 73.00,237.72 73.20,238.13 73.40,235.99 73.60,238.95 73.80,239.14 74.00,236.12 74.20,236.90 74.40,237.83 74.60,237.05 74.80,240.75 75.00,238.29 75.20,235.49 75.40,236.69 75.60,237.86 75.80,241.62 76.00,237.66 76.20,238.15 76.40,238.77 76.60,237.88 76.80,241.59 77.00,237.09 77.20,239.13 77.40,238.19 77.60,238.93 77.80,233.44 78.00,240.76 78.20,237.73 78.40,237.98 78.60,236.42 78.80,236.75 79.00,238.82 79.20,239.49 79.40,239.12 79.60,239.84 79.80,239.05 80.00,237.95 80.20,237.86 80.40,238.84 80.60,237.73 80.80,239.05 81.00,239.94 81.20,238.26 81.40,237.31 81.60,239.02 81.80,240.91 82.00,237.53 82.20,237.71 82.40,237.64 82.60,239.81 82.80,233.25 83.00,238.43 83.20,239.75 83.40,236.53 83.60,240.21 83.80,238.68 84.00,236.94 84.20,238.14 84.40,235.35 84.60,236.90 84.80,240.72 85.00,235.08 85.20,238.04 85.40,237.65 85.60,239.37 85.80,237.84 86.00,234.17 86.20,236.83 86.40,238.05 86.60,235.89 86.80,235.57 87.00,238.31 87.20,236.67 87.40,234.99 87.60,236.60 87.80,239.06 88.00,236.92 88.20,239.16 88.40,240.10 88.60,237.70 88.80,235.82 89.00,235.54 89.20,237.57 89.40,239.01 89.60,238.01 89.80,238.44 90.00,236.84 90.20,238.02 90.40,236.77 90.60,236.98 90.80,235.42 91.00,234.95 91.20,236.68 91.40,235.65 91.60,235.87 91.80,238.46 92.00,237.18 92.20,242.00 92.40,238.79 92.60,236.26 92.80,238.49 93.00,237.78 93.20,236.07 93.40,238.90 93.60,235.84 93.80,232.13 94.00,238.27 94.20,235.95 94.40,239.27 94.60,235.77 94.80,234.85 95.00,239.16 95.20,234.86 95.40,236.83 95.60,238.73 95.80,236.47 96.00,236.03 96.20,236.18 96.40,237.21 96.60,234.36 96.80,236.43 97.00,236.11 97.20,238.64 97.40,233.95 97.60,232.56 97.80,234.70 98.00,232.22 98.20,232.57 98.40,231.40 98.60,232.04 98.80,227.81 99.00,227.33 99.20,221.66 99.40,222.68 99.60,224.89 99.80,219.22 100.00,217.27 100.20,213.60 100.40,216.28 100.60,214.64 100.80,208.98 101.00,215.48 101.20,215.73 101.40,218.00 101.60,217.37 101.80,223.31 102.00,222.99 102.20,223.96 102.40,225.03 102.60,227.07 102.80,230.29 103.00,229.66 103.20,232.93 103.40,233.02 103.60,235.03 103.80,234.80 104.00,233.91 104.20,231.37 104.40,235.31 104.60,236.41 104.80,235.66 105.00,236.51 105.20,235.04 105.40,235.35 105.60,234.59 105.80,238.42 106.00,235.58 106.20,235.65 106.40,234.39 106.60,236.36 106.80,239.00 107.00,237.49 107.20,235.64 107.40,239.15 107.60,239.20 107.80,238.53 108.00,238.26 108.20,238.89 108.40,237.95 108.60,238.35 108.80,235.89 109.00,239.57 109.20,237.57 109.40,240.47 109.60,233.97 109.80,238.40 110.00,238.86 110.20,236.76 110.40,238.05 110.60,238.54 110.80,238.28 111.00,236.51 111.20,237.16 111.40,239.03 111.60,238.71 111.80,237.58 112.00,237.56 112.20,237.77 112.40,239.12 112.60,235.78 112.80,235.34 113.00,237.68 113.20,235.72 113.40,236.56 113.60,237.64 113.80,238.28 114.00,235.80 114.20,238.81 114.40,234.69 114.60,238.41 114.80,235.01 115.00,235.50 115.20,238.58 115.40,236.90 115.60,236.28 115.80,236.85 116.00,238.31 116.20,237.48 116.40,237.52 116.60,239.26 116.80,236.43 117.00,236.82 117.20,236.75 117.40,239.46 117.60,239.17 117.80,239.65 118.00,237.54 118.20,237.34 118.40,238.96 118.60,236.96 118.80,238.92 119.00,238.76 119.20,236.48 119.40,237.46 119.60,237.41 119.80,240.37 120.00,241.74 120.20,237.44 120.40,237.62 120.60,233.94 120.80,237.94 121.00,237.59 121.20,235.88 121.40,238.85 121.60,235.09 121.80,237.25 122.00,237.81 122.20,235.59 122.40,238.96 122.60,239.28 122.80,235.37 123.00,235.33 123.20,238.55 123.40,237.53 123.60,235.64 123.80,237.10 124.00,237.40 124.20,237.34 124.40,238.89 124.60,238.18 124.80,240.40 125.00,239.76 125.20,238.64 125.40,239.28 125.60,239.67 125.80,238.67 126.00,235.57 126.20,238.91 126.40,237.64 126.60,240.12 126.80,237.67 127.00,238.35 127.20,238.03 127.40,240.19 127.60,237.78 127.80,237.05 128.00,237.97 128.20,236.77 128.40,237.72 128.60,237.44 128.80,237.88 129.00,240.52 129.20,236.78 129.40,237.48 129.60,237.09 129.80,238.47 130.00,235.49 130.20,236.26 130.40,237.30 130.60,238.22 130.80,237.26 131.00,236.51 131.20,235.91 131.40,238.10 131.60,239.58 131.80,237.76 132.00,237.53 132.20,237.92 132.40,235.67 132.60,236.66 132.80,236.71 133.00,237.58 133.20,237.03 133.40,235.10 133.60,238.83 133.80,239.70 134.00,236.53 134.20,237.55 134.40,237.30 134.60,238.08 134.80,234.40 135.00,239.31 135.20,235.92 135.40,238.64 135.60,236.67 135.80,235.84 136.00,236.17 136.20,237.75 136.40,234.82 136.60,235.51 136.80,235.22 137.00,233.10 137.20,237.82 137.40,236.49 137.60,235.34 137.80,237.04 138.00,233.37 138.20,234.50 138.40,237.08 138.60,235.47 138.80,229.80 139.00,227.44 139.20,230.52 139.40,233.19 139.60,229.80 139.80,229.20 140.00,229.41 140.20,225.64 140.40,226.01 140.60,225.38 140.80,223.12 141.00,221.19 141.20,217.64 141.40,217.71 141.60,214.40 141.80,215.95 142.00,217.08 142.20,210.79 142.40,208.30 142.60,211.89 142.80,214.34 143.00,216.93 143.20,218.66 143.40,217.31 143.60,219.15 143.80,224.44 144.00,222.19 144.20,227.43 144.40,226.68 144.60,229.62 144.80,230.67 145.00,231.79 145.20,232.73 145.40,230.53 145.60,233.27 145.80,233.36 146.00,234.30 146.20,236.20 146.40,234.10 146.60,233.67 146.80,233.89 147.00,234.77 147.20,236.67 147.40,234.30 147.60,237.62 147.80,236.34 148.00,235.62 148.20,233.93 148.40,236.56 148.60,237.36 148.80,233.48 149.00,238.30 149.20,239.09 149.40,237.04 149.60,237.34 149.80,240.47 150.00,238.61 150.20,235.23 150.40,233.68 150.60,236.48 150.80,236.52 151.00,232.99 151.20,238.03 151.40,235.81 151.60,237.12 151.80,236.65 152.00,238.29 152.20,236.43 152.40,235.64 152.60,237.78 152.80,239.19 153.00,236.43 153.20,239.14 153.40,237.37 153.60,236.10 153.80,239.40 154.00,235.64 154.20,238.58 154.40,236.15 154.60,237.67 154.80,234.96 155.00,235.59 155.20,238.64 155.40,237.22 155.60,236.97 155.80,236.19 156.00,237.60 156.20,234.63 156.40,235.06 156.60,236.58 156.80,235.48 157.00,235.67 157.20,236.66 157.40,236.53 157.60,236.36 157.80,239.36 158.00,238.28 158.20,238.60 158.40,236.54 158.60,235.73 158.80,234.16 159.00,235.89 159.20,233.04 159.40,235.40 159.60,237.51 159.80,238.83 160.00,237.70 160.20,234.68 160.40,236.78 160.60,234.62 160.80,236.84 161.00,235.50 161.20,236.94 161.40,239.57 161.60,236.76 161.80,238.87 162.00,234.78 162.20,234.17 162.40,236.62 162.60,236.98 162.80,232.96 163.00,233.60 163.20,230.69 163.40,232.16 163.60,233.30 163.80,230.94 164.00,229.24 164.20,226.77 164.40,228.41 164.60,227.63 164.80,225.57 165.00,223.03 165.20,218.23 165.40,220.94 165.60,215.23 165.80,212.35 166.00,211.18 166.20,203.60 166.40,205.18 166.60,203.60 166.80,203.86 167.00,205.82 167.20,205.30 167.40,202.87 167.60,205.53 167.80,210.62 168.00,212.62 168.20,212.07 168.40,213.06 168.60,218.15 168.80,218.74 169.00,218.68 169.20,215.98 169.40,221.78 169.60,213.38 169.80,216.99 170.00,220.31 170.20,215.51 170.40,215.27 170.60,212.12 170.80,216.10 171.00,211.57 171.20,214.76 171.40,215.52 171.60,214.82 171.80,219.71 172.00,217.52 172.20,220.50 172.40,223.30 172.60,224.26 172.80,227.21 173.00,229.30 173.20,228.48 173.40,229.12 173.60,230.08 173.80,231.12 174.00,233.72 174.20,232.62 174.40,234.13 174.60,233.74 174.80,232.88 175.00,235.94 175.20,233.13 175.40,235.04 175.60,237.63 175.80,233.64 176.00,235.47 176.20,233.14 176.40,234.99 176.60,233.52 176.80,235.44 177.00,235.25 177.20,236.42 177.40,238.83 177.60,236.81 177.80,237.48 178.00,236.40 178.20,236.14 178.40,235.25 178.60,233.74 178.80,236.79 179.00,239.34 179.20,237.53 179.40,235.95 179.60,239.49 179.80,236.18 180.00,235.91 180.20,234.98 180.40,235.41 180.60,236.59 180.80,240.22 181.00,236.70 181.20,235.40 181.40,236.10 181.60,236.73 181.80,234.36 182.00,237.33 182.20,238.26 182.40,237.67 182.60,238.13 182.80,235.11 183.00,234.47 183.20,239.27 183.40,238.97 183.60,234.75 183.80,237.57 184.00,237.28 184.20,238.12 184.40,237.59 184.60,236.46 184.80,237.58 185.00,237.53 185.20,237.20 185.40,234.32 185.60,229.66 185.80,236.03 186.00,234.68 186.20,237.71 186.40,238.45 186.60,237.73 186.80,236.71 187.00,237.42 187.20,239.18 187.40,236.14 187.60,238.78 187.80,238.44 188.00,237.72 188.20,239.63 188.40,236.15 188.60,238.81 188.80,235.80 189.00,236.06 189.20,235.58 189.40,237.99 189.60,235.76 189.80,237.35 190.00,235.43 190.20,238.96 190.40,240.18 190.60,237.59 190.80,239.85 191.00,238.11 191.20,240.67 191.40,237.34 191.60,234.65 191.80,239.54 192.00,236.93 192.20,235.46 192.40,236.05 192.60,234.47 192.80,236.79 193.00,235.32 193.20,239.40 193.40,238.06 193.60,234.30 193.80,234.51 194.00,235.99 194.20,233.78 194.40,234.08 194.60,236.72 194.80,235.51 195.00,235.83 195.20,237.46 195.40,238.89 195.60,236.80 195.80,236.54 196.00,237.79 196.20,235.15 196.40,236.92 196.60,234.62 196.80,237.25 197.00,233.97 197.20,234.28 197.40,235.69 197.60,236.44 197.80,233.05 198.00,234.30 198.20,235.15 198.40,235.04 198.60,233.00 198.80,234.15 199.00,233.15 199.20,235.38 199.40,233.45 199.60,229.74 199.80,227.57 200.00,230.50 200.20,231.35 200.40,228.64 200.60,228.66 200.80,225.12 201.00,222.28 201.20,224.36 201.40,221.76 201.60,221.21 201.80,216.19 202.00,217.44 202.20,214.82 202.40,216.32 202.60,213.31 202.80,213.05 203.00,213.30 203.20,217.10 203.40,215.95 203.60,215.83 203.80,216.80 204.00,218.29 204.20,224.06 204.40,220.07 204.60,223.14 204.80,226.99 205.00,229.15 205.20,228.12 205.40,230.70 205.60,231.59 205.80,232.79 206.00,231.98 206.20,235.24 206.40,233.46 206.60,236.10 206.80,232.25 207.00,235.87 207.20,232.68 207.40,232.56 207.60,236.03 207.80,234.09 208.00,236.33 208.20,234.04 208.40,238.49 208.60,236.05 208.80,234.32 209.00,236.53 209.20,237.76 209.40,235.18 209.60,237.33 209.80,239.86 210.00,238.03 210.20,236.68 210.40,235.83 210.60,237.73 210.80,234.41 211.00,232.01 211.20,235.86 211.40,235.23 211.60,239.80 211.80,237.26 212.00,235.49 212.20,235.23 212.40,237.92 212.60,235.82 212.80,236.24 213.00,237.05 213.20,237.36 213.40,237.39 213.60,237.44 213.80,239.36 214.00,240.02 214.20,234.65 214.40,241.45 214.60,237.54 214.80,239.34 215.00,236.16 215.20,237.88 215.40,237.71 215.60,237.56 215.80,238.56 216.00,238.40 216.20,235.78 216.40,237.21 216.60,238.57 216.80,238.51 217.00,236.87 217.20,236.96 217.40,237.16 217.60,235.64 217.80,235.34 218.00,239.92 218.20,236.77 218.40,237.55 218.60,236.19 218.80,239.47 219.00,240.19 219.20,237.02 219.40,238.19 219.60,236.15 219.80,240.18 220.00,238.82 220.20,235.98 220.40,239.31 220.60,237.87 220.80,237.94 221.00,237.83 221.20,236.17 221.40,236.36 221.60,238.19 221.80,237.09 222.00,235.62 222.20,240.37 222.40,236.74 222.60,236.14 222.80,235.88 223.00,238.07 223.20,238.48 223.40,237.25 223.60,238.19 223.80,231.93 224.00,236.06 224.20,235.82 224.40,236.48 224.60,237.15 224.80,232.96 225.00,241.13 225.20,234.53 225.40,236.29 225.60,236.85 225.80,236.63 226.00,235.35 226.20,229.92 226.40,232.49 226.60,235.06 226.80,231.85 227.00,231.10 227.20,228.41 227.40,233.62 227.60,231.80 227.80,228.80 228.00,229.34 228.20,228.69 228.40,226.35 228.60,227.14 228.80,227.52 229.00,227.66 229.20,228.65 229.40,226.57 229.60,225.88 229.80,227.57 230.00,226.20 230.20,225.56 230.40,229.93 230.60,227.79 230.80,228.96 231.00,230.11 231.20,227.42 231.40,230.42 231.60,230.15 231.80,229.22 232.00,229.93 232.20,227.88 232.40,225.31 232.60,228.29 232.80,227.08 233.00,229.91 233.20,228.88 233.40,227.66 233.60,228.81 233.80,231.28 234.00,231.34 234.20,230.57 234.40,231.21 234.60,230.61 234.80,231.42 235.00,233.14 235.20,232.51 235.40,233.69 235.60,231.85 235.80,231.37 236.00,231.70 236.20,234.08 236.40,237.23 236.60,237.26 236.80,233.97 237.00,233.27 237.20,237.24 237.40,236.86 237.60,234.04 237.80,238.07 238.00,236.75 238.20,238.68 238.40,237.18 238.60,238.13 238.80,237.27 239.00,235.28 239.20,236.48 239.40,235.81 239.60,238.27 239.80,235.37 240.00,234.54 240.20,238.12 240.40,238.89 240.60,239.39 240.80,238.85 241.00,234.69 241.20,236.01 241.40,236.26 241.60,237.11 241.80,233.70 242.00,237.15 242.20,237.62 242.40,235.65 242.60,237.37 242.80,239.10 243.00,237.26 243.20,238.88 243.40,238.81 243.60,235.45 243.80,237.79 244.00,236.58 244.20,239.16 244.40,236.40 244.60,236.03 244.80,238.27 245.00,235.95 245.20,237.79 245.40,238.78 245.60,237.19 245.80,237.21 246.00,238.49 246.20,238.20 246.40,234.49 246.60,234.82 246.80,239.03 247.00,237.48 247.20,233.46 247.40,234.59 247.60,236.74 247.80,235.07 248.00,237.33 248.20,236.62 248.40,237.20 248.60,234.43 248.80,237.19 249.00,239.22 249.20,234.63 249.40,237.85 249.60,237.11 249.80,236.33 250.00,234.90 250.20,232.81 250.40,232.89 250.60,235.13 250.80,234.99 251.00,234.83 251.20,233.78 251.40,232.99 251.60,230.02 251.80,227.90 252.00,229.30 252.20,228.82 252.40,227.11 252.60,223.41 252.80,224.05 253.00,221.50 253.20,220.31 253.40,220.73 253.60,221.80 253.80,222.48 254.00,222.32 254.20,224.81 254.40,221.31 254.60,220.34 254.80,226.52 255.00,228.30 255.20,229.38 255.40,228.50 255.60,229.90 255.80,230.14 256.00,228.67 256.20,230.64 256.40,233.09 256.60,231.98 256.80,236.58 257.00,231.48 257.20,233.70 257.40,236.58 257.60,234.13 257.80,233.57 258.00,233.45 258.20,234.68 258.40,238.47 258.60,236.85 258.80,237.16 259.00,235.62 259.20,237.92 259.40,236.83 259.60,235.26 259.80,236.09 260.00,237.21 260.20,238.83 260.40,236.91 260.60,237.86 260.80,240.35 261.00,235.87 261.20,235.20 261.40,238.81 261.60,237.97 261.80,237.14 262.00,237.75 262.20,236.83 262.40,238.21 262.60,236.87 262.80,238.72 263.00,235.58 263.20,236.17 263.40,237.69 263.60,236.77 263.80,238.65 264.00,237.49 264.20,236.70 264.40,237.92 264.60,236.76 264.80,235.12 265.00,235.81 265.20,236.36 265.40,236.90 265.60,237.82 265.80,239.14 266.00,238.57 266.20,240.55 266.40,239.75 266.60,237.42 266.80,240.38 267.00,239.63 267.20,237.02 267.40,238.26 267.60,239.52 267.80,238.16 268.00,238.33 268.20,236.77 268.40,238.92 268.60,237.29 268.80,238.42 269.00,237.23 269.20,238.90 269.40,235.12 269.60,238.37 269.80,239.84 270.00,238.77 270.20,237.80 270.40,238.71 270.60,236.50 270.80,236.53 271.00,237.29 271.20,237.63 271.40,239.42 271.60,236.44 271.80,239.48 272.00,235.36 272.20,236.62 272.40,237.83 272.60,239.74 272.80,236.91 273.00,234.46 273.20,238.57 273.40,237.86"/>
<polyline class="tr" stroke="#0d940d" style="stroke-width:1.6" points="26.40,309.46 26.60,310.06 26.80,312.44 27.00,311.11 27.20,308.09 27.40,310.20 27.60,309.38 27.80,309.61 28.00,308.05 28.20,310.44 28.40,310.41 28.60,312.13 28.80,310.47 29.00,310.70 29.20,308.07 29.40,312.92 29.60,307.47 29.80,311.37 30.00,309.48 30.20,308.74 30.40,309.01 30.60,308.96 30.80,310.30 31.00,309.64 31.20,311.68 31.40,307.33 31.60,309.69 31.80,308.50 32.00,310.64 32.20,306.83 32.40,309.11 32.60,309.80 32.80,307.56 33.00,310.74 33.20,309.65 33.40,310.70 33.60,310.60 33.80,308.02 34.00,308.22 34.20,308.95 34.40,310.15 34.60,310.24 34.80,308.16 35.00,308.24 35.20,307.94 35.40,308.17 35.60,308.57 35.80,308.65 36.00,311.46 36.20,308.04 36.40,308.27 36.60,309.18 36.80,304.90 37.00,307.96 37.20,308.38 37.40,309.30 37.60,306.49 37.80,309.92 38.00,307.57 38.20,308.16 38.40,308.95 38.60,308.60 38.80,309.02 39.00,307.73 39.20,307.35 39.40,307.66 39.60,305.79 39.80,308.53 40.00,305.74 40.20,304.91 40.40,309.07 40.60,305.95 40.80,304.32 41.00,308.04 41.20,304.84 41.40,306.33 41.60,303.43 41.80,303.76 42.00,301.35 42.20,300.50 42.40,301.12 42.60,301.62 42.80,302.02 43.00,303.34 43.20,297.74 43.40,297.08 43.60,296.07 43.80,295.39 44.00,292.16 44.20,290.62 44.40,289.92 44.60,287.54 44.80,287.27 45.00,284.25 45.20,284.64 45.40,281.02 45.60,278.67 45.80,277.62 46.00,274.22 46.20,269.63 46.40,268.20 46.60,265.61 46.80,264.91 47.00,262.10 47.20,259.26 47.40,257.91 47.60,254.13 47.80,254.31 48.00,250.32 48.20,253.89 48.40,251.74 48.60,252.09 48.80,251.56 49.00,253.48 49.20,254.53 49.40,258.44 49.60,258.81 49.80,259.48 50.00,263.87 50.20,263.17 50.40,270.66 50.60,270.54 50.80,273.40 51.00,279.09 51.20,281.36 51.40,280.80 51.60,283.78 51.80,286.58 52.00,289.42 52.20,288.80 52.40,289.19 52.60,294.08 52.80,294.29 53.00,296.34 53.20,297.42 53.40,296.22 53.60,297.64 53.80,296.20 54.00,300.24 54.20,303.14 54.40,300.55 54.60,304.28 54.80,304.50 55.00,303.58 55.20,304.07 55.40,304.57 55.60,303.66 55.80,304.72 56.00,305.30 56.20,306.41 56.40,306.86 56.60,305.03 56.80,307.27 57.00,305.32 57.20,306.27 57.40,307.11 57.60,306.71 57.80,306.69 58.00,307.31 58.20,306.33 58.40,306.29 58.60,306.96 58.80,308.56 59.00,307.24 59.20,309.94 59.40,307.79 59.60,303.68 59.80,307.06 60.00,309.86 60.20,307.75 60.40,307.22 60.60,306.69 60.80,309.61 61.00,309.23 61.20,308.84 61.40,308.56 61.60,309.92 61.80,309.14 62.00,306.50 62.20,309.14 62.40,308.38 62.60,308.05 62.80,309.21 63.00,308.28 63.20,304.44 63.40,310.32 63.60,309.67 63.80,308.17 64.00,307.87 64.20,308.67 64.40,306.71 64.60,308.81 64.80,308.12 65.00,307.98 65.20,307.25 65.40,307.58 65.60,309.93 65.80,310.24 66.00,309.16 66.20,308.46 66.40,307.38 66.60,309.48 66.80,310.65 67.00,306.45 67.20,310.10 67.40,305.75 67.60,308.14 67.80,309.09 68.00,306.82 68.20,306.63 68.40,308.85 68.60,309.76 68.80,308.00 69.00,310.38 69.20,307.61 69.40,310.92 69.60,308.80 69.80,308.95 70.00,309.45 70.20,309.07 70.40,311.06 70.60,311.53 70.80,309.37 71.00,308.44 71.20,307.13 71.40,307.68 71.60,308.67 71.80,308.53 72.00,308.61 72.20,308.67 72.40,309.31 72.60,306.91 72.80,307.33 73.00,310.13 73.20,309.76 73.40,307.96 73.60,310.35 73.80,305.40 74.00,308.33 74.20,306.28 74.40,309.76 74.60,308.64 74.80,309.47 75.00,309.57 75.20,308.78 75.40,308.86 75.60,310.21 75.80,308.44 76.00,308.45 76.20,308.73 76.40,309.69 76.60,309.84 76.80,311.14 77.00,308.54 77.20,310.29 77.40,307.79 77.60,309.43 77.80,308.80 78.00,310.90 78.20,309.43 78.40,308.05 78.60,309.38 78.80,309.08 79.00,308.21 79.20,308.23 79.40,307.38 79.60,312.20 79.80,308.77 80.00,309.86 80.20,307.07 80.40,307.17 80.60,308.39 80.80,308.39 81.00,309.62 81.20,307.27 81.40,309.27 81.60,310.54 81.80,307.37 82.00,309.74 82.20,307.30 82.40,309.00 82.60,309.01 82.80,310.80 83.00,307.63 83.20,308.74 83.40,309.88 83.60,306.98 83.80,308.49 84.00,307.36 84.20,307.57 84.40,309.36 84.60,309.38 84.80,311.82 85.00,310.24 85.20,309.10 85.40,308.21 85.60,308.02 85.80,308.58 86.00,305.42 86.20,310.54 86.40,307.49 86.60,306.96 86.80,307.73 87.00,309.45 87.20,309.91 87.40,307.78 87.60,308.82 87.80,308.16 88.00,306.91 88.20,308.41 88.40,308.20 88.60,306.14 88.80,309.55 89.00,306.04 89.20,308.37 89.40,306.66 89.60,306.94 89.80,307.05 90.00,308.85 90.20,306.26 90.40,307.60 90.60,309.84 90.80,306.85 91.00,307.67 91.20,308.52 91.40,306.83 91.60,308.14 91.80,306.58 92.00,308.28 92.20,307.36 92.40,305.95 92.60,308.91 92.80,306.82 93.00,306.44 93.20,305.44 93.40,305.87 93.60,306.18 93.80,306.33 94.00,307.32 94.20,303.90 94.40,304.90 94.60,306.64 94.80,304.98 95.00,304.93 95.20,305.03 95.40,304.04 95.60,303.77 95.80,302.62 96.00,304.51 96.20,303.02 96.40,300.08 96.60,301.18 96.80,298.27 97.00,300.61 97.20,299.38 97.40,297.56 97.60,296.51 97.80,293.90 98.00,296.64 98.20,294.72 98.40,293.74 98.60,294.46 98.80,291.91 99.00,291.40 99.20,290.70 99.40,289.30 99.60,294.07 99.80,290.17 100.00,289.74 100.20,291.36 100.40,285.77 100.60,290.18 100.80,290.45 101.00,289.40 101.20,291.78 101.40,288.84 101.60,292.18 101.80,293.98 102.00,290.37 102.20,292.11 102.40,294.56 102.60,295.45 102.80,295.31 103.00,297.38 103.20,297.92 103.40,296.46 103.60,298.81 103.80,297.88 104.00,297.43 104.20,297.58 104.40,302.73 104.60,301.72 104.80,305.00 105.00,300.93 105.20,302.84 105.40,304.16 105.60,303.91 105.80,305.11 106.00,304.96 106.20,304.26 106.40,302.28 106.60,304.34 106.80,308.08 107.00,307.03 107.20,308.02 107.40,305.61 107.60,306.28 107.80,305.52 108.00,307.31 108.20,306.99 108.40,307.60 108.60,309.41 108.80,306.09 109.00,308.22 109.20,305.49 109.40,308.83 109.60,306.86 109.80,307.40 110.00,307.72 110.20,309.73 110.40,307.58 110.60,307.00 110.80,306.14 111.00,308.08 111.20,306.63 111.40,307.12 111.60,307.76 111.80,308.70 112.00,306.91 112.20,308.74 112.40,310.19 112.60,305.96 112.80,309.70 113.00,310.75 113.20,307.18 113.40,308.77 113.60,306.19 113.80,308.44 114.00,307.59 114.20,308.42 114.40,306.84 114.60,306.97 114.80,307.47 115.00,307.13 115.20,307.25 115.40,307.80 115.60,306.62 115.80,306.66 116.00,308.71 116.20,305.07 116.40,308.34 116.60,307.12 116.80,306.63 117.00,306.34 117.20,306.98 117.40,307.12 117.60,308.54 117.80,306.45 118.00,307.22 118.20,307.03 118.40,309.00 118.60,309.53 118.80,306.53 119.00,309.52 119.20,310.99 119.40,307.58 119.60,308.94 119.80,308.03 120.00,308.31 120.20,307.97 120.40,307.58 120.60,309.19 120.80,309.40 121.00,308.26 121.20,310.24 121.40,309.69 121.60,309.19 121.80,307.35 122.00,310.76 122.20,310.01 122.40,305.49 122.60,306.84 122.80,307.66 123.00,309.51 123.20,309.91 123.40,307.91 123.60,308.60 123.80,309.19 124.00,306.62 124.20,309.05 124.40,307.87 124.60,308.51 124.80,308.20 125.00,306.72 125.20,306.96 125.40,308.30 125.60,308.41 125.80,307.89 126.00,309.09 126.20,307.75 126.40,306.62 126.60,307.75 126.80,307.96 127.00,308.01 127.20,309.68 127.40,308.82 127.60,309.52 127.80,308.95 128.00,307.91 128.20,309.46 128.40,307.75 128.60,308.40 128.80,306.76 129.00,308.18 129.20,307.61 129.40,308.50 129.60,310.37 129.80,311.07 130.00,309.29 130.20,307.90 130.40,308.99 130.60,308.19 130.80,307.07 131.00,307.76 131.20,307.48 131.40,306.99 131.60,309.55 131.80,307.01 132.00,307.03 132.20,308.56 132.40,306.70 132.60,306.06 132.80,306.40 133.00,308.10 133.20,307.91 133.40,307.75 133.60,306.69 133.80,306.04 134.00,308.34 134.20,305.19 134.40,306.71 134.60,305.16 134.80,306.25 135.00,306.46 135.20,308.13 135.40,302.60 135.60,307.98 135.80,304.82 136.00,306.15 136.20,306.56 136.40,304.19 136.60,304.75 136.80,305.13 137.00,302.56 137.20,302.59 137.40,303.27 137.60,302.56 137.80,299.74 138.00,302.80 138.20,300.48 138.40,296.03 138.60,297.20 138.80,299.60 139.00,295.80 139.20,295.36 139.40,291.46 139.60,292.16 139.80,292.63 140.00,290.38 140.20,288.05 140.40,286.18 140.60,287.11 140.80,284.49 141.00,284.19 141.20,283.54 141.40,284.45 141.60,281.37 141.80,281.76 142.00,278.86 142.20,283.21 142.40,283.38 142.60,282.80 142.80,280.52 143.00,283.96 143.20,286.02 143.40,290.08 143.60,289.28 143.80,290.88 144.00,292.23 144.20,294.24 144.40,292.13 144.60,293.75 144.80,294.47 145.00,296.79 145.20,297.73 145.40,299.30 145.60,298.68 145.80,300.98 146.00,300.46 146.20,305.08 146.40,302.17 146.60,306.78 146.80,306.05 147.00,302.72 147.20,305.94 147.40,305.81 147.60,303.28 147.80,306.35 148.00,305.65 148.20,306.42 148.40,305.01 148.60,306.20 148.80,306.95 149.00,306.28 149.20,305.82 149.40,306.50 149.60,305.50 149.80,307.30 150.00,303.56 150.20,308.95 150.40,307.10 150.60,307.69 150.80,308.23 151.00,305.52 151.20,310.16 151.40,305.74 151.60,307.84 151.80,307.68 152.00,308.99 152.20,307.28 152.40,305.46 152.60,307.74 152.80,304.10 153.00,307.08 153.20,306.74 153.40,309.39 153.60,305.76 153.80,306.77 154.00,306.36 154.20,306.23 154.40,306.62 154.60,308.13 154.80,305.61 155.00,307.05 155.20,305.40 155.40,307.08 155.60,307.50 155.80,305.65 156.00,306.50 156.20,307.36 156.40,308.21 156.60,308.42 156.80,307.00 157.00,305.80 157.20,304.95 157.40,308.06 157.60,308.83 157.80,307.44 158.00,308.97 158.20,306.27 158.40,306.29 158.60,308.81 158.80,305.36 159.00,307.40 159.20,307.03 159.40,306.64 159.60,308.61 159.80,305.06 160.00,305.53 160.20,303.19 160.40,304.40 160.60,304.92 160.80,304.87 161.00,304.87 161.20,305.26 161.40,303.67 161.60,301.58 161.80,304.01 162.00,303.92 162.20,301.31 162.40,301.24 162.60,304.02 162.80,302.35 163.00,301.68 163.20,300.28 163.40,298.67 163.60,296.80 163.80,297.22 164.00,295.06 164.20,293.55 164.40,292.90 164.60,291.53 164.80,291.57 165.00,287.68 165.20,291.17 165.40,284.98 165.60,284.55 165.80,285.32 166.00,281.76 166.20,281.35 166.40,281.33 166.60,276.52 166.80,279.68 167.00,278.88 167.20,279.96 167.40,281.26 167.60,281.84 167.80,283.57 168.00,284.06 168.20,284.10 168.40,283.22 168.60,285.37 168.80,283.08 169.00,284.88 169.20,287.51 169.40,286.99 169.60,284.23 169.80,285.60 170.00,287.88 170.20,287.60 170.40,288.33 170.60,284.42 170.80,285.21 171.00,286.77 171.20,285.96 171.40,287.57 171.60,288.03 171.80,289.02 172.00,288.99 172.20,290.70 172.40,291.84 172.60,291.88 172.80,290.95 173.00,292.87 173.20,294.92 173.40,296.20 173.60,296.83 173.80,295.35 174.00,299.23 174.20,298.41 174.40,298.46 174.60,302.58 174.80,301.13 175.00,302.56 175.20,303.95 175.40,305.44 175.60,301.34 175.80,303.19 176.00,305.45 176.20,304.00 176.40,300.86 176.60,305.63 176.80,305.97 177.00,306.93 177.20,306.36 177.40,305.63 177.60,306.63 177.80,306.43 178.00,305.92 178.20,307.02 178.40,307.23 178.60,305.51 178.80,308.27 179.00,308.07 179.20,308.07 179.40,303.48 179.60,307.30 179.80,307.02 180.00,305.91 180.20,308.03 180.40,305.33 180.60,308.96 180.80,307.88 181.00,306.74 181.20,309.30 181.40,308.06 181.60,307.92 181.80,305.79 182.00,308.22 182.20,309.40 182.40,309.01 182.60,305.89 182.80,309.42 183.00,309.72 183.20,308.74 183.40,307.13 183.60,305.67 183.80,306.46 184.00,306.91 184.20,308.03 184.40,308.41 184.60,306.71 184.80,305.54 185.00,307.15 185.20,305.95 185.40,309.45 185.60,306.08 185.80,308.33 186.00,308.78 186.20,306.41 186.40,309.02 186.60,307.51 186.80,306.65 187.00,306.44 187.20,307.83 187.40,309.09 187.60,305.18 187.80,308.48 188.00,307.47 188.20,306.67 188.40,307.52 188.60,307.64 188.80,307.57 189.00,308.70 189.20,306.44 189.40,310.22 189.60,308.79 189.80,306.82 190.00,305.06 190.20,307.56 190.40,307.04 190.60,308.54 190.80,308.50 191.00,310.06 191.20,307.35 191.40,308.55 191.60,306.93 191.80,306.98 192.00,309.47 192.20,307.24 192.40,307.26 192.60,306.90 192.80,307.77 193.00,308.09 193.20,307.11 193.40,305.71 193.60,307.62 193.80,306.04 194.00,306.60 194.20,307.29 194.40,307.26 194.60,303.79 194.80,309.00 195.00,307.71 195.20,309.10 195.40,309.74 195.60,305.02 195.80,305.35 196.00,306.25 196.20,306.96 196.40,304.81 196.60,304.82 196.80,306.39 197.00,303.49 197.20,304.62 197.40,305.42 197.60,303.23 197.80,304.19 198.00,302.54 198.20,300.07 198.40,300.94 198.60,300.83 198.80,300.06 199.00,299.92 199.20,299.77 199.40,298.95 199.60,298.10 199.80,296.56 200.00,296.13 200.20,295.20 200.40,294.19 200.60,296.19 200.80,291.03 201.00,293.33 201.20,290.19 201.40,289.52 201.60,292.61 201.80,290.79 202.00,292.88 202.20,289.52 202.40,290.42 202.60,290.06 202.80,291.17 203.00,291.04 203.20,291.36 203.40,292.50 203.60,294.46 203.80,293.77 204.00,294.29 204.20,294.50 204.40,294.64 204.60,294.35 204.80,295.60 205.00,297.76 205.20,295.83 205.40,299.95 205.60,299.15 205.80,299.07 206.00,300.19 206.20,302.35 206.40,300.99 206.60,302.85 206.80,305.31 207.00,306.51 207.20,302.12 207.40,305.36 207.60,303.53 207.80,303.04 208.00,304.45 208.20,306.75 208.40,305.24 208.60,305.24 208.80,307.93 209.00,306.92 209.20,306.31 209.40,308.95 209.60,307.34 209.80,305.86 210.00,305.49 210.20,306.46 210.40,307.32 210.60,308.41 210.80,308.35 211.00,307.46 211.20,305.82 211.40,308.63 211.60,307.57 211.80,306.05 212.00,305.89 212.20,307.83 212.40,308.02 212.60,308.66 212.80,306.01 213.00,310.15 213.20,305.26 213.40,307.61 213.60,309.44 213.80,309.07 214.00,306.45 214.20,308.52 214.40,309.35 214.60,308.71 214.80,306.46 215.00,309.95 215.20,305.62 215.40,307.82 215.60,306.36 215.80,307.21 216.00,307.34 216.20,308.42 216.40,306.11 216.60,308.06 216.80,309.47 217.00,307.87 217.20,308.48 217.40,308.32 217.60,306.77 217.80,307.26 218.00,307.80 218.20,308.36 218.40,310.39 218.60,309.85 218.80,307.08 219.00,307.10 219.20,306.32 219.40,304.58 219.60,309.33 219.80,308.27 220.00,304.97 220.20,307.52 220.40,310.56 220.60,308.05 220.80,308.02 221.00,307.56 221.20,306.21 221.40,305.60 221.60,305.96 221.80,307.16 222.00,306.53 222.20,307.66 222.40,308.93 222.60,307.25 222.80,307.42 223.00,305.67 223.20,304.23 223.40,308.62 223.60,306.50 223.80,306.88 224.00,304.55 224.20,302.53 224.40,306.28 224.60,301.36 224.80,303.72 225.00,302.92 225.20,303.62 225.40,304.09 225.60,303.79 225.80,299.54 226.00,303.39 226.20,299.19 226.40,302.38 226.60,300.61 226.80,299.42 227.00,300.03 227.20,298.77 227.40,300.40 227.60,301.58 227.80,301.31 228.00,300.24 228.20,301.65 228.40,300.86 228.60,303.13 228.80,300.95 229.00,299.50 229.20,299.98 229.40,299.41 229.60,300.11 229.80,300.37 230.00,301.55 230.20,301.73 230.40,300.79 230.60,301.33 230.80,299.79 231.00,300.07 231.20,297.51 231.40,299.83 231.60,300.26 231.80,304.48 232.00,299.23 232.20,301.25 232.40,300.83 232.60,299.29 232.80,301.95 233.00,301.81 233.20,300.03 233.40,299.09 233.60,302.42 233.80,300.83 234.00,303.94 234.20,302.95 234.40,304.32 234.60,303.48 234.80,306.24 235.00,305.38 235.20,306.77 235.40,305.14 235.60,303.86 235.80,303.58 236.00,305.03 236.20,306.31 236.40,305.28 236.60,309.59 236.80,306.41 237.00,307.27 237.20,306.93 237.40,305.28 237.60,308.50 237.80,308.07 238.00,308.47 238.20,306.18 238.40,307.54 238.60,307.54 238.80,309.23 239.00,305.89 239.20,308.69 239.40,309.54 239.60,307.34 239.80,306.86 240.00,309.75 240.20,308.34 240.40,309.55 240.60,309.08 240.80,309.52 241.00,307.88 241.20,305.31 241.40,308.95 241.60,307.26 241.80,309.01 242.00,307.49 242.20,310.37 242.40,307.88 242.60,309.32 242.80,309.69 243.00,308.11 243.20,308.65 243.40,308.19 243.60,306.97 243.80,310.16 244.00,306.96 244.20,306.08 244.40,307.48 244.60,308.31 244.80,308.21 245.00,307.64 245.20,307.46 245.40,305.17 245.60,308.83 245.80,310.28 246.00,306.93 246.20,304.41 246.40,307.23 246.60,307.50 246.80,302.31 247.00,306.56 247.20,305.53 247.40,305.80 247.60,309.94 247.80,308.47 248.00,306.79 248.20,306.88 248.40,308.82 248.60,305.03 248.80,307.32 249.00,305.24 249.20,307.00 249.40,305.93 249.60,304.35 249.80,306.52 250.00,305.52 250.20,306.97 250.40,303.59 250.60,303.99 250.80,302.51 251.00,304.76 251.20,301.68 251.40,302.32 251.60,303.77 251.80,302.34 252.00,301.56 252.20,301.27 252.40,301.05 252.60,301.18 252.80,299.59 253.00,297.03 253.20,301.45 253.40,298.00 253.60,301.94 253.80,299.76 254.00,303.81 254.20,301.12 254.40,300.21 254.60,301.09 254.80,298.12 255.00,300.57 255.20,300.12 255.40,300.98 255.60,298.48 255.80,298.64 256.00,303.03 256.20,302.48 256.40,302.18 256.60,303.04 256.80,302.64 257.00,303.23 257.20,305.18 257.40,304.25 257.60,305.85 257.80,304.23 258.00,303.02 258.20,304.86 258.40,305.82 258.60,304.73 258.80,305.95 259.00,306.00 259.20,308.14 259.40,308.20 259.60,308.71 259.80,306.33 260.00,307.96 260.20,309.37 260.40,307.98 260.60,307.75 260.80,306.90 261.00,309.15 261.20,308.34 261.40,309.52 261.60,308.03 261.80,311.08 262.00,308.31 262.20,306.73 262.40,308.71 262.60,309.12 262.80,310.24 263.00,307.90 263.20,307.84 263.40,308.24 263.60,308.10 263.80,305.79 264.00,309.64 264.20,310.39 264.40,307.69 264.60,307.41 264.80,308.56 265.00,307.67 265.20,309.86 265.40,307.97 265.60,309.65 265.80,307.17 266.00,306.95 266.20,306.78 266.40,306.97 266.60,309.48 266.80,310.05 267.00,306.91 267.20,309.23 267.40,305.97 267.60,310.46 267.80,307.31 268.00,310.74 268.20,312.25 268.40,309.08 268.60,309.85 268.80,309.85 269.00,307.26 269.20,307.52 269.40,308.12 269.60,309.26 269.80,310.19 270.00,309.23 270.20,310.56 270.40,308.40 270.60,307.19 270.80,309.14 271.00,309.03 271.20,307.21 271.40,310.50 271.60,307.85 271.80,308.16 272.00,309.44 272.20,307.70 272.40,309.99 272.60,309.68 272.80,309.78 273.00,309.17 273.20,308.54 273.40,308.17"/>
<g><line x1="93.30" y1="44" x2="93.30" y2="170.7" class="d" stroke-dashoffset="5.15"/><line x1="177.30" y1="72" x2="177.30" y2="170.7" class="d" stroke-dashoffset="1.55"/><line x1="228.20" y1="78" x2="228.20" y2="170.7" class="d" stroke-dashoffset="7.55"/><line x1="48.50" y1="114" x2="48.50" y2="312" class="d" stroke-dashoffset="1.95"/><line x1="100.60" y1="142" x2="100.60" y2="312" class="d" stroke-dashoffset="6.25"/><line x1="142.20" y1="138" x2="142.20" y2="312" class="d" stroke-dashoffset="2.25"/><line x1="166.30" y1="144" x2="166.30" y2="312" class="d" stroke-dashoffset="0.35"/><line x1="171.00" y1="147" x2="171.00" y2="312" class="d" stroke-dashoffset="3.35"/><line x1="202.80" y1="145" x2="202.80" y2="312" class="d" stroke-dashoffset="1.35"/><line x1="233.40" y1="157" x2="233.40" y2="312" class="d" stroke-dashoffset="5.45"/><line x1="253.80" y1="153" x2="253.80" y2="312" class="d" stroke-dashoffset="1.45"/></g>
<rect x="26.1" y="2" width="328.0" height="309.6" fill="none" stroke="#1c1c1c" stroke-width="1.7"/>
<line x1="26.40" y1="312" x2="26.40" y2="315.0" stroke="#1c1c1c" stroke-width="0.9"/><line x1="46.89" y1="312" x2="46.89" y2="314.2" stroke="#1c1c1c" stroke-width="0.9"/><line x1="67.37" y1="312" x2="67.37" y2="315.0" stroke="#1c1c1c" stroke-width="0.9"/><line x1="87.86" y1="312" x2="87.86" y2="314.2" stroke="#1c1c1c" stroke-width="0.9"/><line x1="108.34" y1="312" x2="108.34" y2="315.0" stroke="#1c1c1c" stroke-width="0.9"/><line x1="128.83" y1="312" x2="128.83" y2="314.2" stroke="#1c1c1c" stroke-width="0.9"/><line x1="149.31" y1="312" x2="149.31" y2="315.0" stroke="#1c1c1c" stroke-width="0.9"/><line x1="169.80" y1="312" x2="169.80" y2="314.2" stroke="#1c1c1c" stroke-width="0.9"/><line x1="190.28" y1="312" x2="190.28" y2="315.0" stroke="#1c1c1c" stroke-width="0.9"/><line x1="210.77" y1="312" x2="210.77" y2="314.2" stroke="#1c1c1c" stroke-width="0.9"/><line x1="231.25" y1="312" x2="231.25" y2="315.0" stroke="#1c1c1c" stroke-width="0.9"/><line x1="251.74" y1="312" x2="251.74" y2="314.2" stroke="#1c1c1c" stroke-width="0.9"/><line x1="272.22" y1="312" x2="272.22" y2="315.0" stroke="#1c1c1c" stroke-width="0.9"/><line x1="292.70" y1="312" x2="292.70" y2="314.2" stroke="#1c1c1c" stroke-width="0.9"/>
<text x="26.70" y="321" class="tl">20</text><text x="67.67" y="321" class="tl">30</text><text x="108.64" y="321" class="tl">40</text><text x="149.61" y="321" class="tl">50</text><text x="190.58" y="321" class="tl">60</text><text x="231.55" y="321" class="tl">70</text><text x="272.52" y="321" class="tl">80</text>
<text transform="translate(75.30,54.90) scale(1.05,1)" class="pl">Z</text><text transform="translate(76.32,40.30) scale(1.15,1) rotate(-90)" class="hk">(100)</text><text transform="translate(86.10,55.70) scale(1.05,1)" class="pl">Z</text><text transform="translate(87.52,41.05) scale(1.15,1) rotate(-90)" class="hk">(002)</text><text transform="translate(93.60,28.20) scale(1.05,1)" class="pl">Z</text><text transform="translate(95.42,13.45) scale(1.15,1) rotate(-90)" class="hk">(101)</text><text transform="translate(139.60,70.20) scale(1.05,1)" class="pl">Z</text><text transform="translate(141.92,55.55) scale(1.15,1) rotate(-90)" class="hk">(102)</text><text transform="translate(177.00,59.80) scale(1.05,1)" class="pl">Z</text><text transform="translate(178.72,45.00) scale(1.15,1) rotate(-90)" class="hk">(110)</text><text transform="translate(203.00,62.30) scale(1.05,1)" class="pl">Z</text><text transform="translate(204.42,48.15) scale(1.15,1) rotate(-90)" class="hk">(103)</text><text transform="translate(216.30,79.00) scale(1.05,1)" class="pl">Z</text><text transform="translate(217.92,64.90) scale(1.15,1) rotate(-90)" class="hk">(200)</text><text transform="translate(223.70,64.90) scale(1.05,1)" class="pl">Z</text><text transform="translate(225.42,50.35) scale(1.15,1) rotate(-90)" class="hk">(112)</text><text transform="translate(230.70,75.20) scale(1.05,1)" class="pl">Z</text><text transform="translate(234.02,60.70) scale(1.15,1) rotate(-90)" class="hk">(201)</text><text transform="translate(243.10,82.50) scale(1.05,1)" class="pl">Z</text><text transform="translate(244.62,68.00) scale(1.15,1) rotate(-90)" class="hk">(004)</text><text transform="translate(260.60,82.50) scale(1.05,1)" class="pl">Z</text><text transform="translate(262.12,68.00) scale(1.15,1) rotate(-90)" class="hk">(202)</text><text transform="translate(49.00,111.50) scale(1.05,1)" class="pl pt">T</text><text transform="translate(50.52,97.30) scale(1.15,1) rotate(-90)" class="hk">(101)</text><text transform="translate(100.90,140.20) scale(1.05,1)" class="pl pt">T</text><text transform="translate(103.22,125.45) scale(1.15,1) rotate(-90)" class="hk">(004)</text><text transform="translate(142.30,136.20) scale(1.05,1)" class="pl pt">T</text><text transform="translate(144.62,122.10) scale(1.15,1) rotate(-90)" class="hk">(200)</text><text transform="translate(164.30,141.70) scale(1.05,1)" class="pl pt">T</text><text transform="translate(164.62,128.30) scale(1.15,1) rotate(-90)" class="hk">(105)</text><text transform="translate(172.50,141.70) scale(1.05,1)" class="pl pt">T</text><text transform="translate(173.72,127.70) scale(1.15,1) rotate(-90)" class="hk">(211)</text><text transform="translate(202.90,142.50) scale(1.05,1)" class="pl pt">T</text><text transform="translate(204.22,128.35) scale(1.15,1) rotate(-90)" class="hk">(204)</text><text transform="translate(234.00,153.40) scale(1.05,1)" class="pl pt">T</text><text transform="translate(235.92,138.50) scale(1.15,1) rotate(-90)" class="hk">(220)</text><text transform="translate(253.30,150.80) scale(1.05,1)" class="pl pt">T</text><text transform="translate(254.72,136.80) scale(1.15,1) rotate(-90)" class="hk">(215)</text>
<rect x="283.5" y="76.7" width="68.39999999999998" height="7.799999999999997" fill="#fff" stroke="#3a3a3a" stroke-width="0.9"/><line x1="285.6" y1="80.60" x2="302.6" y2="80.60" stroke="#f26464" stroke-width="1.7"/><text x="351.6" y="83.10" class="lg" text-anchor="end">Pristine ZnO</text><rect x="274.0" y="158.6" width="77.89999999999998" height="8.599999999999994" fill="#fff" stroke="#3a3a3a" stroke-width="0.9"/><line x1="276.2" y1="162.90" x2="293.0" y2="162.90" stroke="#7474c4" stroke-width="1.7"/><text x="351.6" y="165.40" class="lg" text-anchor="end">ZnO/TiO<tspan class="sub" dy="1.3">2</tspan><tspan dy="-1.3">-1/15</tspan></text><rect x="275.9" y="230.0" width="76.0" height="9.400000000000006" fill="#fff" stroke="#3a3a3a" stroke-width="0.9"/><line x1="278.4" y1="234.70" x2="295.0" y2="234.70" stroke="#ffa652" stroke-width="1.7"/><text x="351.6" y="237.20" class="lg" text-anchor="end">ZnO/TiO<tspan class="sub" dy="1.3">2</tspan><tspan dy="-1.3">-1/20</tspan></text><rect x="275.5" y="300.2" width="76.39999999999998" height="9.0" fill="#fff" stroke="#3a3a3a" stroke-width="0.9"/><line x1="277.8" y1="304.70" x2="295.0" y2="304.70" stroke="#5aae5a" stroke-width="1.7"/><text x="351.6" y="307.20" class="lg" text-anchor="end">ZnO/TiO<tspan class="sub" dy="1.3">2</tspan><tspan dy="-1.3">-1/25</tspan></text>
<text x="27.8" y="16.4" font-size="13.9">(a)</text>
<text x="27.8" y="101.2" font-size="13.9">(b)</text>
<text x="27.8" y="184" font-size="13.9">(c)</text>
<text x="27.8" y="255" font-size="13.9">(f)</text>
<text x="348.5" y="16.7" font-size="13.5" text-anchor="end">T: TiO<tspan font-size="9" dy="2.5">2</tspan></text>
<text x="347.5" y="32" font-size="13.5" text-anchor="end">Z: ZnO</text>
<text x="184.5" y="337.3" font-size="18.1" text-anchor="middle">2 Theta (degree)</text>
<text transform="translate(14.2,149) rotate(-90)" font-size="18" text-anchor="middle">Intensity (a.u.)</text>
</svg>
</body></html>
